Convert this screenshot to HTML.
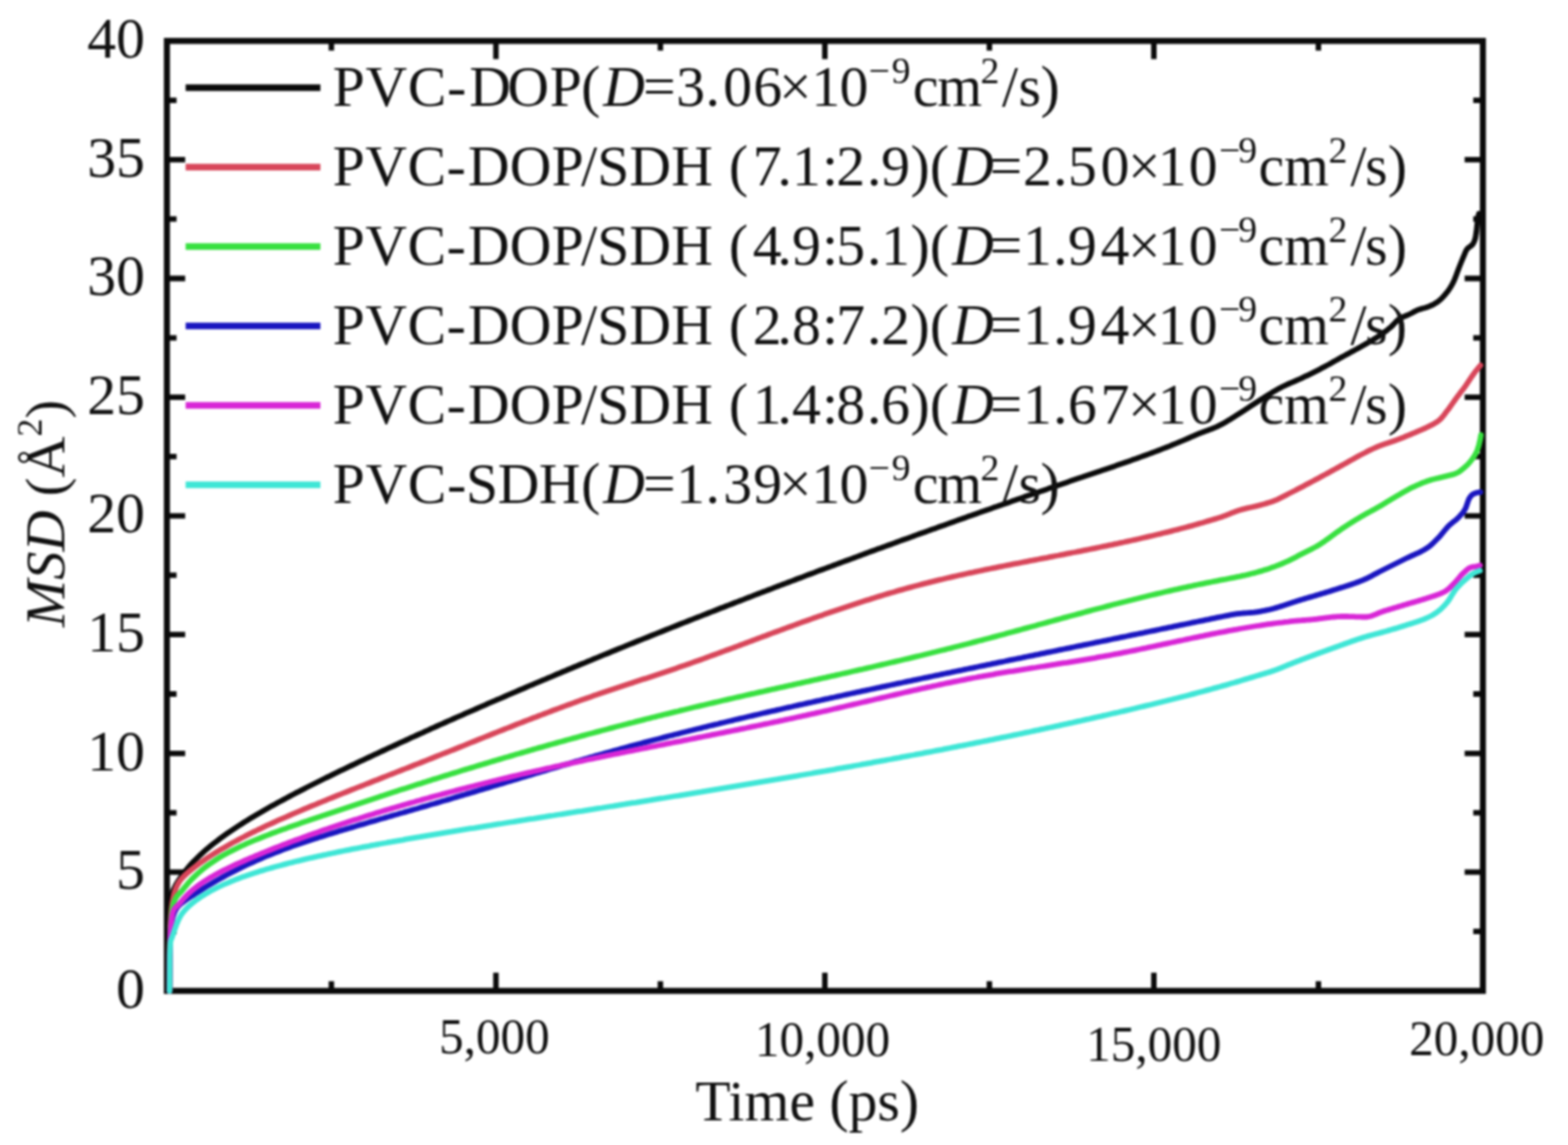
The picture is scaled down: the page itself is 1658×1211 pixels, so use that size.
<!DOCTYPE html>
<html><head><meta charset="utf-8"><title>MSD plot</title>
<style>html,body{margin:0;padding:0;background:#fff;}svg{display:block;filter:blur(0.8px);}</style>
</head><body>
<svg width="1658" height="1211" viewBox="0 0 1658 1211">
<rect width="1658" height="1211" fill="#fff"/>
<rect x="176.5" y="43.3" width="1391.5" height="1004.7" fill="none" stroke="#0a0a0a" stroke-width="6.4"/>
<path d="M350.4,1048.0V1037.8 M350.4,43.3V53.5 M524.4,1048.0V1028.7 M524.4,43.3V62.6 M698.3,1048.0V1037.8 M698.3,43.3V53.5 M872.2,1048.0V1028.7 M872.2,43.3V62.6 M1046.2,1048.0V1037.8 M1046.2,43.3V53.5 M1220.1,1048.0V1028.7 M1220.1,43.3V62.6 M1394.1,1048.0V1037.8 M1394.1,43.3V53.5 M176.5,985.2H186.7 M1568.0,985.2H1557.8 M176.5,922.4H195.8 M1568.0,922.4H1548.7 M176.5,859.6H186.7 M1568.0,859.6H1557.8 M176.5,796.8H195.8 M1568.0,796.8H1548.7 M176.5,734.0H186.7 M1568.0,734.0H1557.8 M176.5,671.2H195.8 M1568.0,671.2H1548.7 M176.5,608.4H186.7 M1568.0,608.4H1557.8 M176.5,545.6H195.8 M1568.0,545.6H1548.7 M176.5,482.9H186.7 M1568.0,482.9H1557.8 M176.5,420.1H195.8 M1568.0,420.1H1548.7 M176.5,357.3H186.7 M1568.0,357.3H1557.8 M176.5,294.5H195.8 M1568.0,294.5H1548.7 M176.5,231.7H186.7 M1568.0,231.7H1557.8 M176.5,168.9H195.8 M1568.0,168.9H1548.7 M176.5,106.1H186.7 M1568.0,106.1H1557.8" stroke="#0a0a0a" stroke-width="5.8" fill="none"/>
<path d="M179.3,1048.0 L179.6,996.4 L180.1,970.8 L180.7,957.2 L181.4,948.9 L182.2,944.2 L183.2,941.4 L184.3,939.2 L185.5,936.9 L186.8,934.5 L188.3,932.1 L189.9,929.6 L191.6,927.1 L193.5,924.5 L195.4,921.9 L197.5,919.3 L199.7,916.7 L202.1,914.0 L204.6,911.3 L207.2,908.7 L209.9,906.0 L212.7,903.3 L215.7,900.6 L218.8,897.9 L222.0,895.3 L225.4,892.6 L228.8,889.9 L232.4,887.1 L236.2,884.4 L240.0,881.7 L243.0,879.6 L246.0,877.6 L249.0,875.6 L252.0,873.6 L255.0,871.7 L258.0,869.8 L261.0,867.9 L264.0,866.1 L267.0,864.3 L270.0,862.5 L273.0,860.7 L276.0,859.0 L279.0,857.2 L282.0,855.5 L285.0,853.8 L288.0,852.1 L291.0,850.5 L294.0,848.8 L297.0,847.2 L300.0,845.6 L303.0,844.0 L306.0,842.4 L309.0,840.8 L312.0,839.2 L315.0,837.7 L318.0,836.1 L321.0,834.6 L324.0,833.0 L327.0,831.5 L330.0,830.0 L333.0,828.5 L336.0,827.0 L339.0,825.5 L342.0,824.0 L345.0,822.5 L348.0,821.1 L351.0,819.6 L354.0,818.1 L357.0,816.7 L360.0,815.2 L363.0,813.8 L366.0,812.4 L369.0,810.9 L372.0,809.5 L375.0,808.1 L378.0,806.6 L381.0,805.2 L384.0,803.8 L387.0,802.4 L390.0,801.0 L393.0,799.6 L396.0,798.2 L399.0,796.8 L402.0,795.4 L405.0,794.0 L408.0,792.6 L411.0,791.2 L414.0,789.8 L417.0,788.5 L420.0,787.1 L423.0,785.7 L426.0,784.3 L429.0,783.0 L432.0,781.6 L435.0,780.2 L438.0,778.9 L441.0,777.5 L444.0,776.1 L447.0,774.8 L450.0,773.4 L453.0,772.1 L456.0,770.7 L459.0,769.4 L462.0,768.0 L465.0,766.7 L468.0,765.4 L471.0,764.0 L474.0,762.7 L477.0,761.4 L480.0,760.0 L483.0,758.7 L486.0,757.4 L489.0,756.1 L492.0,754.7 L495.0,753.4 L498.0,752.1 L501.0,750.8 L504.0,749.5 L507.0,748.2 L510.0,746.9 L513.0,745.6 L516.0,744.2 L519.0,742.9 L522.0,741.6 L525.0,740.3 L528.0,739.1 L531.0,737.8 L534.0,736.5 L537.0,735.2 L540.0,733.9 L543.0,732.6 L546.0,731.3 L549.0,730.0 L552.0,728.8 L555.0,727.5 L558.0,726.2 L561.0,724.9 L564.0,723.7 L567.0,722.4 L570.0,721.1 L573.0,719.8 L576.0,718.6 L579.0,717.3 L582.0,716.1 L585.0,714.8 L588.0,713.5 L591.0,712.3 L594.0,711.0 L597.0,709.8 L600.0,708.5 L603.0,707.3 L606.0,706.0 L609.0,704.8 L612.0,703.5 L615.0,702.3 L618.0,701.1 L621.0,699.8 L624.0,698.6 L627.0,697.3 L630.0,696.1 L633.0,694.9 L636.0,693.6 L639.0,692.4 L642.0,691.2 L645.0,690.0 L648.0,688.7 L651.0,687.5 L654.0,686.3 L657.0,685.1 L660.0,683.9 L663.0,682.6 L666.0,681.4 L669.0,680.2 L672.0,679.0 L675.0,677.8 L678.0,676.6 L681.0,675.4 L684.0,674.2 L687.0,673.0 L690.0,671.8 L693.0,670.6 L696.0,669.4 L699.0,668.2 L702.0,667.0 L705.0,665.8 L708.0,664.6 L711.0,663.4 L714.0,662.2 L717.0,661.0 L720.0,659.8 L723.0,658.6 L726.0,657.5 L729.0,656.3 L732.0,655.1 L735.0,653.9 L738.0,652.7 L741.0,651.6 L744.0,650.4 L747.0,649.2 L750.0,648.0 L753.0,646.9 L756.0,645.7 L759.0,644.5 L762.0,643.3 L765.0,642.2 L768.0,641.0 L771.0,639.9 L774.0,638.7 L777.0,637.5 L780.0,636.4 L783.0,635.2 L786.0,634.1 L789.0,632.9 L792.0,631.7 L795.0,630.6 L798.0,629.4 L801.0,628.3 L804.0,627.1 L807.0,626.0 L810.0,624.9 L813.0,623.7 L816.0,622.6 L819.0,621.4 L822.0,620.3 L825.0,619.1 L828.0,618.0 L831.0,616.9 L834.0,615.7 L837.0,614.6 L840.0,613.5 L843.0,612.3 L846.0,611.2 L849.0,610.1 L852.0,608.9 L855.0,607.8 L858.0,606.7 L861.0,605.6 L864.0,604.4 L867.0,603.3 L870.0,602.2 L873.0,601.1 L876.0,600.0 L879.0,598.9 L882.0,597.7 L885.0,596.6 L888.0,595.5 L891.0,594.4 L894.0,593.3 L897.0,592.2 L900.0,591.1 L903.0,590.0 L906.0,588.9 L909.0,587.8 L912.0,586.6 L915.0,585.5 L918.0,584.4 L921.0,583.3 L924.0,582.2 L927.0,581.1 L930.0,580.1 L933.0,579.0 L936.0,577.9 L939.0,576.8 L942.0,575.7 L945.0,574.6 L948.0,573.5 L951.0,572.4 L954.0,571.3 L957.0,570.2 L960.0,569.2 L963.0,568.1 L966.0,567.0 L969.0,565.9 L972.0,564.8 L975.0,563.7 L978.0,562.7 L981.0,561.6 L984.0,560.5 L987.0,559.4 L990.0,558.4 L993.0,557.3 L996.0,556.2 L999.0,555.2 L1002.0,554.1 L1005.0,553.0 L1008.0,552.0 L1011.0,550.9 L1014.0,549.8 L1017.0,548.8 L1020.0,547.7 L1023.0,546.6 L1026.0,545.6 L1029.0,544.5 L1032.0,543.5 L1035.0,542.4 L1038.0,541.3 L1041.0,540.3 L1044.0,539.2 L1047.0,538.2 L1050.0,537.1 L1053.0,536.1 L1056.0,535.0 L1059.0,534.0 L1062.0,532.9 L1065.0,531.9 L1068.0,530.9 L1071.0,529.8 L1074.0,528.8 L1077.0,527.7 L1080.0,526.7 L1083.0,525.6 L1086.0,524.6 L1089.0,523.6 L1092.0,522.5 L1095.0,521.5 L1098.0,520.5 L1101.0,519.4 L1104.0,518.4 L1107.0,517.4 L1110.0,516.3 L1113.0,515.3 L1116.0,514.3 L1119.0,513.2 L1122.0,512.2 L1125.0,511.2 L1128.0,510.2 L1131.0,509.1 L1134.0,508.1 L1137.0,507.1 L1140.0,506.1 L1143.0,505.1 L1146.0,504.0 L1149.0,503.0 L1152.0,502.0 L1155.0,501.0 L1158.0,500.0 L1161.0,499.0 L1164.0,498.0 L1167.0,496.9 L1170.0,495.9 L1173.0,494.9 L1176.0,493.9 L1179.0,492.9 L1182.0,491.8 L1185.0,490.8 L1188.0,489.8 L1191.0,488.7 L1194.0,487.7 L1197.0,486.6 L1200.0,485.6 L1203.0,484.5 L1206.0,483.4 L1209.0,482.3 L1212.0,481.2 L1215.0,480.1 L1218.0,479.0 L1221.0,477.9 L1224.0,476.8 L1227.0,475.6 L1230.0,474.4 L1233.0,473.3 L1236.0,472.1 L1239.0,470.8 L1242.0,469.6 L1245.0,468.4 L1248.0,467.1 L1251.0,465.9 L1254.0,464.6 L1255.0,464.1 L1256.0,463.7 L1257.0,463.3 L1258.0,462.8 L1259.0,462.4 L1260.0,461.9 L1261.0,461.5 L1262.0,461.1 L1263.0,460.6 L1264.0,460.2 L1265.0,459.8 L1266.0,459.4 L1267.0,458.9 L1268.0,458.5 L1269.0,458.1 L1270.0,457.8 L1271.0,457.4 L1272.0,457.0 L1273.0,456.6 L1274.0,456.3 L1275.0,455.9 L1276.0,455.5 L1277.0,455.2 L1278.0,454.8 L1279.0,454.4 L1280.0,454.0 L1281.0,453.7 L1282.0,453.3 L1283.0,452.9 L1284.0,452.5 L1285.0,452.0 L1286.0,451.6 L1287.0,451.1 L1288.0,450.7 L1289.0,450.2 L1290.0,449.7 L1291.0,449.2 L1292.0,448.7 L1293.0,448.1 L1294.0,447.6 L1295.0,447.0 L1296.0,446.4 L1297.0,445.8 L1298.0,445.2 L1299.0,444.6 L1300.0,444.0 L1301.0,443.4 L1302.0,442.8 L1303.0,442.1 L1304.0,441.5 L1305.0,440.9 L1306.0,440.2 L1307.0,439.6 L1308.0,438.9 L1309.0,438.3 L1310.0,437.7 L1311.0,437.0 L1312.0,436.4 L1313.0,435.8 L1314.0,435.1 L1315.0,434.5 L1316.0,433.9 L1317.0,433.2 L1318.0,432.5 L1319.0,431.9 L1320.0,431.2 L1321.0,430.6 L1322.0,429.9 L1323.0,429.2 L1324.0,428.6 L1325.0,427.9 L1326.0,427.3 L1327.0,426.6 L1328.0,426.0 L1329.0,425.3 L1330.0,424.7 L1331.0,424.0 L1332.0,423.4 L1333.0,422.7 L1334.0,422.1 L1335.0,421.5 L1336.0,420.9 L1337.0,420.2 L1338.0,419.6 L1339.0,419.0 L1340.0,418.3 L1341.0,417.7 L1342.0,417.1 L1343.0,416.5 L1344.0,415.9 L1345.0,415.2 L1346.0,414.6 L1347.0,414.0 L1348.0,413.4 L1349.0,412.9 L1350.0,412.3 L1351.0,411.7 L1352.0,411.2 L1353.0,410.6 L1354.0,410.1 L1355.0,409.6 L1356.0,409.0 L1357.0,408.5 L1358.0,408.1 L1359.0,407.6 L1360.0,407.1 L1361.0,406.7 L1362.0,406.2 L1363.0,405.8 L1364.0,405.3 L1365.0,404.9 L1366.0,404.5 L1367.0,404.1 L1368.0,403.6 L1369.0,403.2 L1370.0,402.8 L1371.0,402.3 L1372.0,401.9 L1373.0,401.5 L1374.0,401.0 L1375.0,400.6 L1376.0,400.1 L1377.0,399.7 L1378.0,399.2 L1379.0,398.7 L1380.0,398.2 L1381.0,397.7 L1382.0,397.3 L1383.0,396.8 L1384.0,396.3 L1385.0,395.8 L1386.0,395.3 L1387.0,394.8 L1388.0,394.3 L1389.0,393.8 L1390.0,393.3 L1391.0,392.8 L1392.0,392.3 L1393.0,391.8 L1394.0,391.3 L1395.0,390.8 L1396.0,390.3 L1397.0,389.7 L1398.0,389.2 L1399.0,388.7 L1400.0,388.2 L1401.0,387.6 L1402.0,387.1 L1403.0,386.5 L1404.0,386.0 L1405.0,385.5 L1406.0,384.9 L1407.0,384.3 L1408.0,383.8 L1409.0,383.2 L1410.0,382.7 L1411.0,382.1 L1412.0,381.5 L1413.0,381.0 L1414.0,380.4 L1415.0,379.9 L1416.0,379.3 L1417.0,378.7 L1418.0,378.2 L1419.0,377.6 L1420.0,377.1 L1421.0,376.5 L1422.0,376.0 L1423.0,375.4 L1424.0,374.9 L1425.0,374.3 L1426.0,373.8 L1427.0,373.3 L1428.0,372.7 L1429.0,372.2 L1430.0,371.6 L1431.0,371.1 L1432.0,370.6 L1433.0,370.0 L1434.0,369.5 L1435.0,368.9 L1436.0,368.4 L1437.0,367.8 L1438.0,367.3 L1439.0,366.7 L1440.0,366.1 L1441.0,365.6 L1442.0,365.0 L1443.0,364.4 L1444.0,363.9 L1445.0,363.3 L1446.0,362.7 L1447.0,362.1 L1448.0,361.6 L1449.0,361.0 L1450.0,360.4 L1451.0,359.8 L1452.0,359.2 L1453.0,358.6 L1454.0,358.0 L1455.0,357.3 L1456.0,356.7 L1457.0,356.1 L1458.0,355.4 L1459.0,354.7 L1460.0,354.0 L1461.0,353.4 L1462.0,352.7 L1463.0,351.9 L1464.0,351.2 L1465.0,350.5 L1466.0,349.7 L1467.0,348.9 L1468.0,348.1 L1469.0,347.3 L1470.0,346.5 L1471.0,345.6 L1472.0,344.6 L1473.0,343.6 L1474.0,342.5 L1475.0,341.5 L1476.0,340.4 L1477.0,339.4 L1478.0,338.5 L1479.0,337.7 L1480.0,337.0 L1481.0,336.4 L1482.0,335.9 L1483.0,335.4 L1484.0,335.0 L1485.0,334.6 L1486.0,334.2 L1487.0,333.8 L1488.0,333.4 L1489.0,333.0 L1490.0,332.5 L1491.0,332.0 L1492.0,331.5 L1493.0,331.0 L1494.0,330.4 L1495.0,329.9 L1496.0,329.3 L1497.0,328.8 L1498.0,328.4 L1499.0,327.9 L1500.0,327.5 L1501.0,327.2 L1502.0,326.9 L1503.0,326.6 L1504.0,326.3 L1505.0,326.0 L1506.0,325.8 L1507.0,325.5 L1508.0,325.2 L1509.0,324.9 L1510.0,324.5 L1511.0,324.1 L1512.0,323.7 L1513.0,323.2 L1514.0,322.8 L1515.0,322.3 L1516.0,321.8 L1517.0,321.2 L1518.0,320.6 L1519.0,320.0 L1520.0,319.3 L1521.0,318.6 L1522.0,317.8 L1523.0,316.9 L1524.0,316.0 L1525.0,315.0 L1526.0,313.9 L1527.0,312.8 L1528.0,311.6 L1529.0,310.4 L1530.0,309.2 L1531.0,307.9 L1532.0,306.5 L1533.0,305.0 L1534.0,303.4 L1535.0,301.7 L1536.0,299.8 L1537.0,297.9 L1538.0,295.7 L1539.0,293.2 L1540.0,290.5 L1541.0,287.7 L1542.0,285.1 L1543.0,282.5 L1544.0,280.0 L1545.0,277.5 L1546.0,275.1 L1547.0,272.7 L1548.0,270.3 L1549.0,267.8 L1550.0,265.5 L1551.0,263.8 L1552.0,262.6 L1553.0,261.8 L1554.0,261.1 L1555.0,260.4 L1556.0,259.6 L1557.0,258.6 L1558.0,257.1 L1559.0,255.0 L1560.0,252.0 L1561.0,246.1 L1562.0,237.0 L1563.0,228.9 L1563.8,226.0" fill="none" stroke="#0a0a0a" stroke-width="5.8" stroke-linejoin="round" stroke-linecap="round"/>
<path d="M179.3,1048.0 L179.6,1002.1 L180.1,979.5 L180.7,968.4 L181.4,960.6 L182.2,954.5 L183.2,949.2 L184.3,944.7 L185.5,940.8 L186.8,937.5 L188.3,934.6 L189.9,932.1 L191.6,929.9 L193.5,927.8 L195.4,925.9 L197.5,923.9 L199.7,922.0 L202.1,920.0 L204.6,918.0 L207.2,916.0 L209.9,913.9 L212.7,911.9 L215.7,909.8 L218.8,907.7 L222.0,905.6 L225.4,903.4 L228.8,901.3 L232.4,899.1 L236.2,896.9 L240.0,894.7 L243.0,893.0 L246.0,891.3 L249.0,889.7 L252.0,888.1 L255.0,886.5 L258.0,885.0 L261.0,883.4 L264.0,881.9 L267.0,880.4 L270.0,879.0 L273.0,877.5 L276.0,876.1 L279.0,874.6 L282.0,873.2 L285.0,871.8 L288.0,870.5 L291.0,869.1 L294.0,867.7 L297.0,866.4 L300.0,865.1 L303.0,863.8 L306.0,862.5 L309.0,861.2 L312.0,859.9 L315.0,858.6 L318.0,857.3 L321.0,856.0 L324.0,854.8 L327.0,853.5 L330.0,852.3 L333.0,851.1 L336.0,849.8 L339.0,848.6 L342.0,847.4 L345.0,846.2 L348.0,844.9 L351.0,843.7 L354.0,842.5 L357.0,841.3 L360.0,840.1 L363.0,838.9 L366.0,837.7 L369.0,836.5 L372.0,835.3 L375.0,834.1 L378.0,832.9 L381.0,831.8 L384.0,830.6 L387.0,829.4 L390.0,828.2 L393.0,827.0 L396.0,825.8 L399.0,824.7 L402.0,823.5 L405.0,822.3 L408.0,821.1 L411.0,819.9 L414.0,818.8 L417.0,817.6 L420.0,816.4 L423.0,815.2 L426.0,814.0 L429.0,812.9 L432.0,811.7 L435.0,810.5 L438.0,809.3 L441.0,808.1 L444.0,807.0 L447.0,805.8 L450.0,804.6 L453.0,803.4 L456.0,802.2 L459.0,801.0 L462.0,799.8 L465.0,798.6 L468.0,797.4 L471.0,796.3 L474.0,795.1 L477.0,793.9 L480.0,792.7 L483.0,791.5 L486.0,790.3 L489.0,789.1 L492.0,787.9 L495.0,786.6 L498.0,785.4 L501.0,784.2 L504.0,783.0 L507.0,781.8 L510.0,780.6 L513.0,779.4 L516.0,778.2 L519.0,777.0 L522.0,775.8 L525.0,774.6 L528.0,773.4 L531.0,772.2 L534.0,771.0 L537.0,769.9 L540.0,768.7 L543.0,767.5 L546.0,766.3 L549.0,765.1 L552.0,764.0 L555.0,762.8 L558.0,761.6 L561.0,760.5 L564.0,759.3 L567.0,758.2 L570.0,757.0 L573.0,755.9 L576.0,754.7 L579.0,753.6 L582.0,752.5 L585.0,751.3 L588.0,750.2 L591.0,749.1 L594.0,748.0 L597.0,746.9 L600.0,745.8 L603.0,744.7 L606.0,743.6 L609.0,742.5 L612.0,741.4 L615.0,740.3 L618.0,739.3 L621.0,738.2 L624.0,737.2 L627.0,736.1 L630.0,735.1 L633.0,734.0 L636.0,733.0 L639.0,732.0 L642.0,731.0 L645.0,730.0 L648.0,729.0 L651.0,728.0 L654.0,727.0 L657.0,726.0 L660.0,725.0 L663.0,724.0 L666.0,723.0 L669.0,722.1 L672.0,721.1 L675.0,720.1 L678.0,719.1 L681.0,718.1 L684.0,717.2 L687.0,716.2 L690.0,715.2 L693.0,714.2 L696.0,713.2 L699.0,712.2 L702.0,711.2 L705.0,710.2 L708.0,709.2 L711.0,708.2 L714.0,707.2 L717.0,706.1 L720.0,705.1 L723.0,704.1 L726.0,703.0 L729.0,702.0 L732.0,700.9 L735.0,699.8 L738.0,698.8 L741.0,697.7 L744.0,696.6 L747.0,695.5 L750.0,694.4 L753.0,693.3 L756.0,692.2 L759.0,691.1 L762.0,690.0 L765.0,688.9 L768.0,687.8 L771.0,686.7 L774.0,685.6 L777.0,684.5 L780.0,683.4 L783.0,682.2 L786.0,681.1 L789.0,680.0 L792.0,678.9 L795.0,677.8 L798.0,676.6 L801.0,675.5 L804.0,674.4 L807.0,673.3 L810.0,672.2 L813.0,671.0 L816.0,669.9 L819.0,668.8 L822.0,667.7 L825.0,666.6 L828.0,665.5 L831.0,664.4 L834.0,663.3 L837.0,662.2 L840.0,661.1 L843.0,660.0 L846.0,658.9 L849.0,657.8 L852.0,656.8 L855.0,655.7 L858.0,654.6 L861.0,653.5 L864.0,652.5 L867.0,651.4 L870.0,650.4 L873.0,649.3 L876.0,648.3 L879.0,647.2 L882.0,646.2 L885.0,645.2 L888.0,644.2 L891.0,643.2 L894.0,642.2 L897.0,641.2 L900.0,640.2 L903.0,639.2 L906.0,638.2 L909.0,637.2 L912.0,636.3 L915.0,635.3 L918.0,634.4 L921.0,633.4 L924.0,632.5 L927.0,631.5 L930.0,630.6 L933.0,629.7 L936.0,628.8 L939.0,627.9 L942.0,627.0 L945.0,626.2 L948.0,625.3 L951.0,624.4 L954.0,623.6 L957.0,622.7 L960.0,621.9 L963.0,621.1 L966.0,620.3 L969.0,619.5 L972.0,618.7 L975.0,617.9 L978.0,617.1 L981.0,616.4 L984.0,615.6 L987.0,614.9 L990.0,614.1 L993.0,613.4 L996.0,612.7 L999.0,612.0 L1002.0,611.3 L1005.0,610.6 L1008.0,609.9 L1011.0,609.2 L1014.0,608.5 L1017.0,607.9 L1020.0,607.2 L1023.0,606.5 L1026.0,605.9 L1029.0,605.3 L1032.0,604.6 L1035.0,604.0 L1038.0,603.4 L1041.0,602.7 L1044.0,602.1 L1047.0,601.5 L1050.0,600.9 L1053.0,600.3 L1056.0,599.7 L1059.0,599.1 L1062.0,598.5 L1065.0,597.9 L1068.0,597.3 L1071.0,596.7 L1074.0,596.1 L1077.0,595.6 L1080.0,595.0 L1083.0,594.4 L1086.0,593.8 L1089.0,593.2 L1092.0,592.7 L1095.0,592.1 L1098.0,591.5 L1101.0,590.9 L1104.0,590.3 L1107.0,589.8 L1110.0,589.2 L1113.0,588.6 L1116.0,588.0 L1119.0,587.5 L1122.0,586.9 L1125.0,586.3 L1128.0,585.7 L1131.0,585.1 L1134.0,584.5 L1137.0,584.0 L1140.0,583.4 L1143.0,582.8 L1146.0,582.2 L1149.0,581.6 L1152.0,581.0 L1155.0,580.4 L1158.0,579.8 L1161.0,579.2 L1164.0,578.5 L1167.0,577.9 L1170.0,577.3 L1173.0,576.7 L1176.0,576.1 L1179.0,575.4 L1182.0,574.8 L1185.0,574.1 L1188.0,573.5 L1191.0,572.8 L1194.0,572.2 L1197.0,571.5 L1200.0,570.9 L1203.0,570.2 L1206.0,569.5 L1209.0,568.8 L1212.0,568.1 L1215.0,567.4 L1218.0,566.7 L1221.0,566.0 L1224.0,565.3 L1227.0,564.6 L1230.0,563.8 L1233.0,563.1 L1236.0,562.4 L1239.0,561.6 L1242.0,560.8 L1245.0,560.1 L1248.0,559.3 L1251.0,558.5 L1254.0,557.7 L1257.0,556.9 L1260.0,556.1 L1263.0,555.2 L1266.0,554.4 L1269.0,553.5 L1272.0,552.7 L1275.0,551.8 L1278.0,550.9 L1281.0,550.0 L1284.0,549.1 L1287.0,548.2 L1290.0,547.3 L1291.0,547.0 L1292.0,546.6 L1293.0,546.3 L1294.0,545.9 L1295.0,545.5 L1296.0,545.2 L1297.0,544.8 L1298.0,544.4 L1299.0,544.0 L1300.0,543.6 L1301.0,543.1 L1302.0,542.7 L1303.0,542.3 L1304.0,542.0 L1305.0,541.6 L1306.0,541.2 L1307.0,540.8 L1308.0,540.5 L1309.0,540.1 L1310.0,539.8 L1311.0,539.5 L1312.0,539.2 L1313.0,538.9 L1314.0,538.6 L1315.0,538.4 L1316.0,538.1 L1317.0,537.9 L1318.0,537.6 L1319.0,537.4 L1320.0,537.2 L1321.0,537.0 L1322.0,536.7 L1323.0,536.5 L1324.0,536.3 L1325.0,536.0 L1326.0,535.8 L1327.0,535.6 L1328.0,535.3 L1329.0,535.1 L1330.0,534.8 L1331.0,534.6 L1332.0,534.3 L1333.0,534.1 L1334.0,533.8 L1335.0,533.5 L1336.0,533.3 L1337.0,533.0 L1338.0,532.7 L1339.0,532.4 L1340.0,532.1 L1341.0,531.8 L1342.0,531.5 L1343.0,531.2 L1344.0,530.9 L1345.0,530.5 L1346.0,530.2 L1347.0,529.8 L1348.0,529.4 L1349.0,529.0 L1350.0,528.6 L1351.0,528.2 L1352.0,527.7 L1353.0,527.2 L1354.0,526.7 L1355.0,526.2 L1356.0,525.7 L1357.0,525.2 L1358.0,524.7 L1359.0,524.1 L1360.0,523.6 L1361.0,523.1 L1362.0,522.5 L1363.0,522.0 L1364.0,521.5 L1365.0,521.0 L1366.0,520.5 L1367.0,520.0 L1368.0,519.5 L1369.0,519.0 L1370.0,518.5 L1371.0,517.9 L1372.0,517.4 L1373.0,516.9 L1374.0,516.4 L1375.0,515.9 L1376.0,515.3 L1377.0,514.8 L1378.0,514.3 L1379.0,513.8 L1380.0,513.2 L1381.0,512.7 L1382.0,512.2 L1383.0,511.7 L1384.0,511.1 L1385.0,510.6 L1386.0,510.1 L1387.0,509.5 L1388.0,509.0 L1389.0,508.5 L1390.0,507.9 L1391.0,507.4 L1392.0,506.9 L1393.0,506.3 L1394.0,505.8 L1395.0,505.3 L1396.0,504.7 L1397.0,504.2 L1398.0,503.6 L1399.0,503.1 L1400.0,502.5 L1401.0,502.0 L1402.0,501.5 L1403.0,500.9 L1404.0,500.4 L1405.0,499.8 L1406.0,499.3 L1407.0,498.7 L1408.0,498.2 L1409.0,497.6 L1410.0,497.1 L1411.0,496.5 L1412.0,496.0 L1413.0,495.4 L1414.0,494.9 L1415.0,494.3 L1416.0,493.8 L1417.0,493.2 L1418.0,492.7 L1419.0,492.1 L1420.0,491.6 L1421.0,491.0 L1422.0,490.5 L1423.0,489.9 L1424.0,489.4 L1425.0,488.8 L1426.0,488.2 L1427.0,487.7 L1428.0,487.1 L1429.0,486.5 L1430.0,486.0 L1431.0,485.4 L1432.0,484.8 L1433.0,484.3 L1434.0,483.7 L1435.0,483.2 L1436.0,482.6 L1437.0,482.1 L1438.0,481.5 L1439.0,481.0 L1440.0,480.5 L1441.0,480.0 L1442.0,479.5 L1443.0,479.0 L1444.0,478.5 L1445.0,477.9 L1446.0,477.4 L1447.0,476.9 L1448.0,476.4 L1449.0,475.9 L1450.0,475.5 L1451.0,475.0 L1452.0,474.5 L1453.0,474.0 L1454.0,473.6 L1455.0,473.1 L1456.0,472.7 L1457.0,472.3 L1458.0,471.9 L1459.0,471.5 L1460.0,471.1 L1461.0,470.7 L1462.0,470.4 L1463.0,470.0 L1464.0,469.7 L1465.0,469.3 L1466.0,469.0 L1467.0,468.7 L1468.0,468.4 L1469.0,468.0 L1470.0,467.7 L1471.0,467.4 L1472.0,467.0 L1473.0,466.7 L1474.0,466.4 L1475.0,466.0 L1476.0,465.6 L1477.0,465.3 L1478.0,464.9 L1479.0,464.5 L1480.0,464.1 L1481.0,463.7 L1482.0,463.4 L1483.0,463.0 L1484.0,462.6 L1485.0,462.2 L1486.0,461.7 L1487.0,461.3 L1488.0,460.9 L1489.0,460.5 L1490.0,460.1 L1491.0,459.7 L1492.0,459.3 L1493.0,458.8 L1494.0,458.4 L1495.0,458.0 L1496.0,457.6 L1497.0,457.1 L1498.0,456.7 L1499.0,456.3 L1500.0,455.9 L1501.0,455.4 L1502.0,455.0 L1503.0,454.6 L1504.0,454.1 L1505.0,453.7 L1506.0,453.3 L1507.0,452.8 L1508.0,452.3 L1509.0,451.9 L1510.0,451.4 L1511.0,450.9 L1512.0,450.4 L1513.0,449.8 L1514.0,449.3 L1515.0,448.8 L1516.0,448.3 L1517.0,447.7 L1518.0,447.1 L1519.0,446.5 L1520.0,445.8 L1521.0,445.1 L1522.0,444.3 L1523.0,443.4 L1524.0,442.4 L1525.0,441.3 L1526.0,440.0 L1527.0,438.8 L1528.0,437.4 L1529.0,436.1 L1530.0,434.8 L1531.0,433.5 L1532.0,432.2 L1533.0,430.8 L1534.0,429.4 L1535.0,428.0 L1536.0,426.5 L1537.0,425.1 L1538.0,423.7 L1539.0,422.3 L1540.0,420.9 L1541.0,419.6 L1542.0,418.2 L1543.0,416.9 L1544.0,415.6 L1545.0,414.3 L1546.0,413.0 L1547.0,411.7 L1548.0,410.4 L1549.0,409.0 L1550.0,407.6 L1551.0,406.1 L1552.0,404.6 L1553.0,403.1 L1554.0,401.6 L1555.0,400.1 L1556.0,398.6 L1557.0,397.2 L1558.0,395.8 L1559.0,394.4 L1560.0,393.1 L1561.0,391.8 L1562.0,390.6 L1563.0,389.4 L1564.0,388.2 L1565.0,387.0 L1565.5,386.4" fill="none" stroke="#d8465a" stroke-width="5.8" stroke-linejoin="round" stroke-linecap="round"/>
<path d="M179.3,1048.0 L179.6,1005.3 L180.1,984.9 L180.7,974.9 L181.4,967.3 L182.2,961.4 L183.2,956.7 L184.3,953.1 L185.5,950.4 L186.8,948.2 L188.3,946.4 L189.9,944.7 L191.6,942.9 L193.5,940.8 L195.4,938.3 L197.5,935.8 L199.7,933.2 L202.1,930.6 L204.6,928.1 L207.2,925.6 L209.9,923.1 L212.7,920.7 L215.7,918.3 L218.8,915.9 L222.0,913.6 L225.4,911.3 L228.8,909.0 L232.4,906.8 L236.2,904.6 L240.0,902.5 L243.0,900.8 L246.0,899.3 L249.0,897.8 L252.0,896.3 L255.0,894.9 L258.0,893.6 L261.0,892.2 L264.0,890.9 L267.0,889.6 L270.0,888.4 L273.0,887.2 L276.0,886.0 L279.0,884.8 L282.0,883.6 L285.0,882.5 L288.0,881.3 L291.0,880.2 L294.0,879.1 L297.0,878.0 L300.0,876.9 L303.0,875.9 L306.0,874.8 L309.0,873.7 L312.0,872.7 L315.0,871.7 L318.0,870.6 L321.0,869.6 L324.0,868.6 L327.0,867.5 L330.0,866.5 L333.0,865.5 L336.0,864.5 L339.0,863.5 L342.0,862.4 L345.0,861.4 L348.0,860.4 L351.0,859.4 L354.0,858.4 L357.0,857.4 L360.0,856.4 L363.0,855.4 L366.0,854.4 L369.0,853.4 L372.0,852.4 L375.0,851.4 L378.0,850.4 L381.0,849.4 L384.0,848.4 L387.0,847.4 L390.0,846.4 L393.0,845.4 L396.0,844.4 L399.0,843.4 L402.0,842.4 L405.0,841.5 L408.0,840.5 L411.0,839.5 L414.0,838.5 L417.0,837.5 L420.0,836.6 L423.0,835.6 L426.0,834.6 L429.0,833.7 L432.0,832.7 L435.0,831.7 L438.0,830.8 L441.0,829.8 L444.0,828.9 L447.0,827.9 L450.0,827.0 L453.0,826.0 L456.0,825.1 L459.0,824.1 L462.0,823.2 L465.0,822.3 L468.0,821.3 L471.0,820.4 L474.0,819.5 L477.0,818.5 L480.0,817.6 L483.0,816.7 L486.0,815.8 L489.0,814.8 L492.0,813.9 L495.0,813.0 L498.0,812.1 L501.0,811.2 L504.0,810.3 L507.0,809.4 L510.0,808.5 L513.0,807.6 L516.0,806.7 L519.0,805.8 L522.0,804.9 L525.0,804.0 L528.0,803.1 L531.0,802.2 L534.0,801.3 L537.0,800.5 L540.0,799.6 L543.0,798.7 L546.0,797.8 L549.0,797.0 L552.0,796.1 L555.0,795.2 L558.0,794.4 L561.0,793.5 L564.0,792.6 L567.0,791.8 L570.0,790.9 L573.0,790.1 L576.0,789.2 L579.0,788.4 L582.0,787.5 L585.0,786.7 L588.0,785.9 L591.0,785.0 L594.0,784.2 L597.0,783.4 L600.0,782.5 L603.0,781.7 L606.0,780.9 L609.0,780.1 L612.0,779.2 L615.0,778.4 L618.0,777.6 L621.0,776.8 L624.0,776.0 L627.0,775.2 L630.0,774.4 L633.0,773.6 L636.0,772.8 L639.0,772.0 L642.0,771.2 L645.0,770.4 L648.0,769.6 L651.0,768.8 L654.0,768.0 L657.0,767.3 L660.0,766.5 L663.0,765.7 L666.0,764.9 L669.0,764.2 L672.0,763.4 L675.0,762.6 L678.0,761.9 L681.0,761.1 L684.0,760.3 L687.0,759.6 L690.0,758.8 L693.0,758.1 L696.0,757.3 L699.0,756.6 L702.0,755.8 L705.0,755.1 L708.0,754.4 L711.0,753.6 L714.0,752.9 L717.0,752.2 L720.0,751.4 L723.0,750.7 L726.0,750.0 L729.0,749.3 L732.0,748.5 L735.0,747.8 L738.0,747.1 L741.0,746.4 L744.0,745.7 L747.0,745.0 L750.0,744.3 L753.0,743.6 L756.0,742.9 L759.0,742.2 L762.0,741.5 L765.0,740.8 L768.0,740.1 L771.0,739.4 L774.0,738.7 L777.0,738.0 L780.0,737.3 L783.0,736.7 L786.0,736.0 L789.0,735.3 L792.0,734.6 L795.0,733.9 L798.0,733.3 L801.0,732.6 L804.0,731.9 L807.0,731.3 L810.0,730.6 L813.0,729.9 L816.0,729.2 L819.0,728.6 L822.0,727.9 L825.0,727.2 L828.0,726.6 L831.0,725.9 L834.0,725.2 L837.0,724.6 L840.0,723.9 L843.0,723.2 L846.0,722.6 L849.0,721.9 L852.0,721.2 L855.0,720.6 L858.0,719.9 L861.0,719.2 L864.0,718.6 L867.0,717.9 L870.0,717.2 L873.0,716.6 L876.0,715.9 L879.0,715.2 L882.0,714.6 L885.0,713.9 L888.0,713.2 L891.0,712.5 L894.0,711.9 L897.0,711.2 L900.0,710.5 L903.0,709.8 L906.0,709.1 L909.0,708.4 L912.0,707.8 L915.0,707.1 L918.0,706.4 L921.0,705.7 L924.0,705.0 L927.0,704.3 L930.0,703.6 L933.0,702.9 L936.0,702.2 L939.0,701.5 L942.0,700.8 L945.0,700.1 L948.0,699.4 L951.0,698.7 L954.0,698.0 L957.0,697.3 L960.0,696.6 L963.0,695.9 L966.0,695.1 L969.0,694.4 L972.0,693.7 L975.0,693.0 L978.0,692.2 L981.0,691.5 L984.0,690.8 L987.0,690.0 L990.0,689.3 L993.0,688.5 L996.0,687.8 L999.0,687.1 L1002.0,686.3 L1005.0,685.6 L1008.0,684.8 L1011.0,684.0 L1014.0,683.3 L1017.0,682.5 L1020.0,681.7 L1023.0,681.0 L1026.0,680.2 L1029.0,679.4 L1032.0,678.6 L1035.0,677.8 L1038.0,677.1 L1041.0,676.3 L1044.0,675.5 L1047.0,674.7 L1050.0,673.9 L1053.0,673.1 L1056.0,672.3 L1059.0,671.5 L1062.0,670.7 L1065.0,669.8 L1068.0,669.0 L1071.0,668.2 L1074.0,667.4 L1077.0,666.6 L1080.0,665.8 L1083.0,664.9 L1086.0,664.1 L1089.0,663.3 L1092.0,662.5 L1095.0,661.7 L1098.0,660.8 L1101.0,660.0 L1104.0,659.2 L1107.0,658.4 L1110.0,657.5 L1113.0,656.7 L1116.0,655.9 L1119.0,655.1 L1122.0,654.3 L1125.0,653.4 L1128.0,652.6 L1131.0,651.8 L1134.0,651.0 L1137.0,650.2 L1140.0,649.4 L1143.0,648.6 L1146.0,647.7 L1149.0,646.9 L1152.0,646.1 L1155.0,645.3 L1158.0,644.5 L1161.0,643.7 L1164.0,643.0 L1167.0,642.2 L1170.0,641.4 L1173.0,640.6 L1176.0,639.8 L1179.0,639.0 L1182.0,638.3 L1185.0,637.5 L1188.0,636.7 L1191.0,636.0 L1194.0,635.2 L1197.0,634.5 L1200.0,633.7 L1203.0,633.0 L1206.0,632.2 L1209.0,631.5 L1212.0,630.8 L1215.0,630.0 L1218.0,629.3 L1221.0,628.6 L1224.0,627.9 L1227.0,627.2 L1230.0,626.5 L1233.0,625.8 L1236.0,625.1 L1239.0,624.4 L1242.0,623.7 L1245.0,623.1 L1248.0,622.4 L1251.0,621.7 L1254.0,621.1 L1257.0,620.4 L1260.0,619.8 L1263.0,619.1 L1266.0,618.5 L1269.0,617.9 L1272.0,617.3 L1275.0,616.7 L1278.0,616.1 L1281.0,615.5 L1284.0,614.9 L1287.0,614.3 L1290.0,613.7 L1293.0,613.1 L1296.0,612.6 L1299.0,612.0 L1302.0,611.4 L1305.0,610.8 L1308.0,610.2 L1311.0,609.6 L1314.0,608.9 L1317.0,608.3 L1320.0,607.6 L1323.0,606.8 L1326.0,606.1 L1329.0,605.3 L1332.0,604.4 L1335.0,603.6 L1338.0,602.6 L1341.0,601.7 L1344.0,600.6 L1347.0,599.6 L1350.0,598.4 L1353.0,597.2 L1356.0,596.0 L1359.0,594.7 L1362.0,593.3 L1365.0,591.8 L1368.0,590.3 L1370.0,589.3 L1371.0,588.8 L1372.0,588.2 L1373.0,587.7 L1374.0,587.2 L1375.0,586.7 L1376.0,586.1 L1377.0,585.6 L1378.0,585.1 L1379.0,584.6 L1380.0,584.1 L1381.0,583.6 L1382.0,583.1 L1383.0,582.6 L1384.0,582.1 L1385.0,581.6 L1386.0,581.1 L1387.0,580.6 L1388.0,580.1 L1389.0,579.5 L1390.0,579.0 L1391.0,578.5 L1392.0,577.9 L1393.0,577.4 L1394.0,576.8 L1395.0,576.2 L1396.0,575.5 L1397.0,574.9 L1398.0,574.2 L1399.0,573.5 L1400.0,572.9 L1401.0,572.1 L1402.0,571.4 L1403.0,570.7 L1404.0,570.0 L1405.0,569.3 L1406.0,568.5 L1407.0,567.8 L1408.0,567.1 L1409.0,566.3 L1410.0,565.6 L1411.0,564.9 L1412.0,564.1 L1413.0,563.4 L1414.0,562.7 L1415.0,562.0 L1416.0,561.3 L1417.0,560.6 L1418.0,559.9 L1419.0,559.2 L1420.0,558.5 L1421.0,557.8 L1422.0,557.2 L1423.0,556.5 L1424.0,555.9 L1425.0,555.2 L1426.0,554.6 L1427.0,553.9 L1428.0,553.3 L1429.0,552.7 L1430.0,552.0 L1431.0,551.4 L1432.0,550.8 L1433.0,550.2 L1434.0,549.6 L1435.0,549.0 L1436.0,548.4 L1437.0,547.8 L1438.0,547.2 L1439.0,546.6 L1440.0,546.0 L1441.0,545.4 L1442.0,544.8 L1443.0,544.3 L1444.0,543.7 L1445.0,543.2 L1446.0,542.6 L1447.0,542.1 L1448.0,541.5 L1449.0,541.0 L1450.0,540.4 L1451.0,539.9 L1452.0,539.4 L1453.0,538.8 L1454.0,538.3 L1455.0,537.7 L1456.0,537.1 L1457.0,536.6 L1458.0,536.0 L1459.0,535.4 L1460.0,534.9 L1461.0,534.3 L1462.0,533.7 L1463.0,533.1 L1464.0,532.5 L1465.0,531.8 L1466.0,531.2 L1467.0,530.6 L1468.0,530.0 L1469.0,529.4 L1470.0,528.8 L1471.0,528.2 L1472.0,527.6 L1473.0,527.0 L1474.0,526.4 L1475.0,525.8 L1476.0,525.2 L1477.0,524.7 L1478.0,524.1 L1479.0,523.5 L1480.0,522.9 L1481.0,522.3 L1482.0,521.7 L1483.0,521.2 L1484.0,520.6 L1485.0,520.0 L1486.0,519.4 L1487.0,518.9 L1488.0,518.3 L1489.0,517.8 L1490.0,517.2 L1491.0,516.7 L1492.0,516.2 L1493.0,515.7 L1494.0,515.2 L1495.0,514.8 L1496.0,514.3 L1497.0,513.9 L1498.0,513.4 L1499.0,513.0 L1500.0,512.5 L1501.0,512.1 L1502.0,511.7 L1503.0,511.2 L1504.0,510.8 L1505.0,510.4 L1506.0,510.0 L1507.0,509.7 L1508.0,509.3 L1509.0,508.9 L1510.0,508.6 L1511.0,508.2 L1512.0,507.9 L1513.0,507.6 L1514.0,507.3 L1515.0,507.0 L1516.0,506.8 L1517.0,506.5 L1518.0,506.3 L1519.0,506.0 L1520.0,505.8 L1521.0,505.6 L1522.0,505.3 L1523.0,505.1 L1524.0,504.9 L1525.0,504.7 L1526.0,504.4 L1527.0,504.2 L1528.0,503.9 L1529.0,503.7 L1530.0,503.4 L1531.0,503.2 L1532.0,502.9 L1533.0,502.7 L1534.0,502.4 L1535.0,502.1 L1536.0,501.9 L1537.0,501.6 L1538.0,501.3 L1539.0,500.9 L1540.0,500.5 L1541.0,500.0 L1542.0,499.5 L1543.0,498.8 L1544.0,498.1 L1545.0,497.4 L1546.0,496.6 L1547.0,495.7 L1548.0,494.9 L1549.0,494.0 L1550.0,493.1 L1551.0,492.2 L1552.0,491.2 L1553.0,490.1 L1554.0,489.0 L1555.0,487.8 L1556.0,486.5 L1557.0,485.2 L1558.0,483.8 L1559.0,482.2 L1560.0,480.5 L1561.0,478.6 L1562.0,476.3 L1563.0,473.4 L1564.0,469.7 L1565.0,465.4 L1566.0,460.0" fill="none" stroke="#38e040" stroke-width="5.8" stroke-linejoin="round" stroke-linecap="round"/>
<path d="M179.3,1048.0 L179.6,1009.7 L180.1,990.9 L180.7,982.0 L181.4,976.3 L182.2,972.0 L183.2,968.4 L184.3,965.4 L185.5,962.8 L186.8,960.5 L188.3,958.6 L189.9,957.0 L191.6,955.5 L193.5,954.1 L195.4,952.7 L197.5,951.2 L199.7,949.7 L202.1,948.1 L204.6,946.5 L207.2,944.7 L209.9,943.0 L212.7,941.2 L215.7,939.3 L218.8,937.4 L222.0,935.5 L225.4,933.5 L228.8,931.5 L232.4,929.5 L236.2,927.4 L240.0,925.3 L243.0,923.7 L246.0,922.2 L249.0,920.6 L252.0,919.1 L255.0,917.6 L258.0,916.2 L261.0,914.7 L264.0,913.3 L267.0,912.0 L270.0,910.6 L273.0,909.3 L276.0,908.0 L279.0,906.7 L282.0,905.4 L285.0,904.2 L288.0,903.0 L291.0,901.8 L294.0,900.7 L297.0,899.5 L300.0,898.4 L303.0,897.3 L306.0,896.2 L309.0,895.1 L312.0,894.1 L315.0,893.0 L318.0,892.0 L321.0,891.0 L324.0,890.0 L327.0,889.0 L330.0,888.0 L333.0,887.0 L336.0,886.1 L339.0,885.1 L342.0,884.2 L345.0,883.2 L348.0,882.3 L351.0,881.4 L354.0,880.5 L357.0,879.6 L360.0,878.6 L363.0,877.7 L366.0,876.9 L369.0,876.0 L372.0,875.1 L375.0,874.2 L378.0,873.3 L381.0,872.4 L384.0,871.6 L387.0,870.7 L390.0,869.8 L393.0,868.9 L396.0,868.1 L399.0,867.2 L402.0,866.3 L405.0,865.5 L408.0,864.6 L411.0,863.8 L414.0,862.9 L417.0,862.0 L420.0,861.2 L423.0,860.3 L426.0,859.5 L429.0,858.6 L432.0,857.7 L435.0,856.9 L438.0,856.0 L441.0,855.2 L444.0,854.3 L447.0,853.4 L450.0,852.6 L453.0,851.7 L456.0,850.8 L459.0,850.0 L462.0,849.1 L465.0,848.2 L468.0,847.3 L471.0,846.5 L474.0,845.6 L477.0,844.7 L480.0,843.8 L483.0,842.9 L486.0,842.0 L489.0,841.1 L492.0,840.3 L495.0,839.4 L498.0,838.5 L501.0,837.6 L504.0,836.7 L507.0,835.8 L510.0,834.9 L513.0,834.0 L516.0,833.1 L519.0,832.2 L522.0,831.3 L525.0,830.4 L528.0,829.5 L531.0,828.6 L534.0,827.7 L537.0,826.8 L540.0,825.9 L543.0,825.0 L546.0,824.1 L549.0,823.2 L552.0,822.3 L555.0,821.4 L558.0,820.5 L561.0,819.6 L564.0,818.7 L567.0,817.8 L570.0,816.9 L573.0,816.0 L576.0,815.1 L579.0,814.2 L582.0,813.3 L585.0,812.4 L588.0,811.6 L591.0,810.7 L594.0,809.8 L597.0,808.9 L600.0,808.1 L603.0,807.2 L606.0,806.3 L609.0,805.4 L612.0,804.6 L615.0,803.7 L618.0,802.8 L621.0,802.0 L624.0,801.1 L627.0,800.3 L630.0,799.4 L633.0,798.6 L636.0,797.7 L639.0,796.9 L642.0,796.0 L645.0,795.2 L648.0,794.4 L651.0,793.5 L654.0,792.7 L657.0,791.9 L660.0,791.1 L663.0,790.2 L666.0,789.4 L669.0,788.6 L672.0,787.8 L675.0,787.0 L678.0,786.2 L681.0,785.4 L684.0,784.6 L687.0,783.8 L690.0,783.0 L693.0,782.2 L696.0,781.5 L699.0,780.7 L702.0,779.9 L705.0,779.1 L708.0,778.3 L711.0,777.6 L714.0,776.8 L717.0,776.1 L720.0,775.3 L723.0,774.5 L726.0,773.8 L729.0,773.0 L732.0,772.3 L735.0,771.5 L738.0,770.8 L741.0,770.1 L744.0,769.3 L747.0,768.6 L750.0,767.8 L753.0,767.1 L756.0,766.4 L759.0,765.7 L762.0,764.9 L765.0,764.2 L768.0,763.5 L771.0,762.8 L774.0,762.1 L777.0,761.3 L780.0,760.6 L783.0,759.9 L786.0,759.2 L789.0,758.5 L792.0,757.8 L795.0,757.1 L798.0,756.4 L801.0,755.7 L804.0,755.0 L807.0,754.3 L810.0,753.6 L813.0,752.9 L816.0,752.2 L819.0,751.6 L822.0,750.9 L825.0,750.2 L828.0,749.5 L831.0,748.8 L834.0,748.1 L837.0,747.5 L840.0,746.8 L843.0,746.1 L846.0,745.4 L849.0,744.8 L852.0,744.1 L855.0,743.4 L858.0,742.8 L861.0,742.1 L864.0,741.4 L867.0,740.8 L870.0,740.1 L873.0,739.4 L876.0,738.8 L879.0,738.1 L882.0,737.5 L885.0,736.8 L888.0,736.2 L891.0,735.5 L894.0,734.8 L897.0,734.2 L900.0,733.5 L903.0,732.9 L906.0,732.2 L909.0,731.6 L912.0,730.9 L915.0,730.3 L918.0,729.7 L921.0,729.0 L924.0,728.4 L927.0,727.7 L930.0,727.1 L933.0,726.4 L936.0,725.8 L939.0,725.2 L942.0,724.5 L945.0,723.9 L948.0,723.2 L951.0,722.6 L954.0,722.0 L957.0,721.3 L960.0,720.7 L963.0,720.1 L966.0,719.4 L969.0,718.8 L972.0,718.2 L975.0,717.5 L978.0,716.9 L981.0,716.3 L984.0,715.7 L987.0,715.0 L990.0,714.4 L993.0,713.8 L996.0,713.1 L999.0,712.5 L1002.0,711.9 L1005.0,711.3 L1008.0,710.6 L1011.0,710.0 L1014.0,709.4 L1017.0,708.8 L1020.0,708.1 L1023.0,707.5 L1026.0,706.9 L1029.0,706.3 L1032.0,705.7 L1035.0,705.0 L1038.0,704.4 L1041.0,703.8 L1044.0,703.2 L1047.0,702.6 L1050.0,701.9 L1053.0,701.3 L1056.0,700.7 L1059.0,700.1 L1062.0,699.5 L1065.0,698.8 L1068.0,698.2 L1071.0,697.6 L1074.0,697.0 L1077.0,696.4 L1080.0,695.8 L1083.0,695.1 L1086.0,694.5 L1089.0,693.9 L1092.0,693.3 L1095.0,692.7 L1098.0,692.1 L1101.0,691.4 L1104.0,690.8 L1107.0,690.2 L1110.0,689.6 L1113.0,689.0 L1116.0,688.4 L1119.0,687.7 L1122.0,687.1 L1125.0,686.5 L1128.0,685.9 L1131.0,685.3 L1134.0,684.7 L1137.0,684.0 L1140.0,683.4 L1143.0,682.8 L1146.0,682.2 L1149.0,681.6 L1152.0,681.0 L1155.0,680.4 L1158.0,679.7 L1161.0,679.1 L1164.0,678.5 L1167.0,677.9 L1170.0,677.3 L1173.0,676.7 L1176.0,676.0 L1179.0,675.4 L1182.0,674.8 L1185.0,674.2 L1188.0,673.6 L1191.0,673.0 L1194.0,672.3 L1197.0,671.7 L1200.0,671.1 L1203.0,670.5 L1206.0,669.9 L1209.0,669.3 L1212.0,668.6 L1215.0,668.0 L1218.0,667.4 L1221.0,666.8 L1224.0,666.2 L1227.0,665.5 L1230.0,664.9 L1233.0,664.3 L1236.0,663.7 L1239.0,663.1 L1242.0,662.4 L1245.0,661.8 L1248.0,661.2 L1251.0,660.6 L1254.0,660.0 L1257.0,659.4 L1260.0,658.7 L1263.0,658.1 L1266.0,657.5 L1269.0,656.9 L1272.0,656.3 L1275.0,655.7 L1278.0,655.1 L1281.0,654.4 L1284.0,653.8 L1287.0,653.2 L1290.0,652.6 L1293.0,652.0 L1296.0,651.4 L1299.0,650.8 L1300.0,650.6 L1301.0,650.4 L1302.0,650.2 L1303.0,650.0 L1304.0,649.9 L1305.0,649.7 L1306.0,649.5 L1307.0,649.4 L1308.0,649.2 L1309.0,649.1 L1310.0,649.0 L1311.0,648.9 L1312.0,648.8 L1313.0,648.7 L1314.0,648.6 L1315.0,648.5 L1316.0,648.4 L1317.0,648.4 L1318.0,648.3 L1319.0,648.2 L1320.0,648.2 L1321.0,648.1 L1322.0,648.0 L1323.0,647.9 L1324.0,647.9 L1325.0,647.8 L1326.0,647.7 L1327.0,647.5 L1328.0,647.4 L1329.0,647.3 L1330.0,647.1 L1331.0,646.9 L1332.0,646.8 L1333.0,646.6 L1334.0,646.4 L1335.0,646.2 L1336.0,646.0 L1337.0,645.8 L1338.0,645.6 L1339.0,645.4 L1340.0,645.2 L1341.0,645.0 L1342.0,644.8 L1343.0,644.5 L1344.0,644.3 L1345.0,644.0 L1346.0,643.8 L1347.0,643.5 L1348.0,643.2 L1349.0,642.9 L1350.0,642.6 L1351.0,642.4 L1352.0,642.0 L1353.0,641.7 L1354.0,641.4 L1355.0,641.1 L1356.0,640.8 L1357.0,640.5 L1358.0,640.1 L1359.0,639.8 L1360.0,639.5 L1361.0,639.1 L1362.0,638.8 L1363.0,638.5 L1364.0,638.1 L1365.0,637.8 L1366.0,637.5 L1367.0,637.1 L1368.0,636.8 L1369.0,636.5 L1370.0,636.2 L1371.0,635.8 L1372.0,635.5 L1373.0,635.2 L1374.0,634.9 L1375.0,634.6 L1376.0,634.3 L1377.0,634.0 L1378.0,633.7 L1379.0,633.4 L1380.0,633.1 L1381.0,632.8 L1382.0,632.5 L1383.0,632.2 L1384.0,631.9 L1385.0,631.6 L1386.0,631.3 L1387.0,631.1 L1388.0,630.8 L1389.0,630.5 L1390.0,630.2 L1391.0,629.9 L1392.0,629.6 L1393.0,629.3 L1394.0,629.0 L1395.0,628.7 L1396.0,628.4 L1397.0,628.1 L1398.0,627.8 L1399.0,627.5 L1400.0,627.2 L1401.0,626.9 L1402.0,626.6 L1403.0,626.3 L1404.0,626.0 L1405.0,625.7 L1406.0,625.4 L1407.0,625.1 L1408.0,624.7 L1409.0,624.4 L1410.0,624.1 L1411.0,623.8 L1412.0,623.5 L1413.0,623.2 L1414.0,622.9 L1415.0,622.5 L1416.0,622.2 L1417.0,621.9 L1418.0,621.6 L1419.0,621.3 L1420.0,621.0 L1421.0,620.7 L1422.0,620.4 L1423.0,620.0 L1424.0,619.7 L1425.0,619.4 L1426.0,619.1 L1427.0,618.7 L1428.0,618.4 L1429.0,618.1 L1430.0,617.7 L1431.0,617.4 L1432.0,617.0 L1433.0,616.7 L1434.0,616.3 L1435.0,615.9 L1436.0,615.6 L1437.0,615.2 L1438.0,614.8 L1439.0,614.4 L1440.0,614.0 L1441.0,613.6 L1442.0,613.2 L1443.0,612.7 L1444.0,612.3 L1445.0,611.8 L1446.0,611.3 L1447.0,610.8 L1448.0,610.3 L1449.0,609.8 L1450.0,609.3 L1451.0,608.8 L1452.0,608.2 L1453.0,607.7 L1454.0,607.2 L1455.0,606.6 L1456.0,606.1 L1457.0,605.6 L1458.0,605.0 L1459.0,604.5 L1460.0,604.0 L1461.0,603.5 L1462.0,603.0 L1463.0,602.5 L1464.0,602.0 L1465.0,601.5 L1466.0,601.0 L1467.0,600.5 L1468.0,600.0 L1469.0,599.5 L1470.0,599.0 L1471.0,598.5 L1472.0,598.0 L1473.0,597.5 L1474.0,597.0 L1475.0,596.5 L1476.0,596.0 L1477.0,595.5 L1478.0,595.0 L1479.0,594.5 L1480.0,594.0 L1481.0,593.5 L1482.0,593.0 L1483.0,592.5 L1484.0,592.0 L1485.0,591.5 L1486.0,591.0 L1487.0,590.5 L1488.0,590.0 L1489.0,589.6 L1490.0,589.1 L1491.0,588.6 L1492.0,588.2 L1493.0,587.7 L1494.0,587.3 L1495.0,586.8 L1496.0,586.4 L1497.0,585.9 L1498.0,585.5 L1499.0,585.0 L1500.0,584.6 L1501.0,584.1 L1502.0,583.6 L1503.0,583.1 L1504.0,582.5 L1505.0,582.0 L1506.0,581.4 L1507.0,580.8 L1508.0,580.2 L1509.0,579.6 L1510.0,578.9 L1511.0,578.2 L1512.0,577.4 L1513.0,576.5 L1514.0,575.7 L1515.0,574.7 L1516.0,573.8 L1517.0,572.8 L1518.0,571.8 L1519.0,570.8 L1520.0,569.8 L1521.0,568.8 L1522.0,567.7 L1523.0,566.6 L1524.0,565.4 L1525.0,564.2 L1526.0,563.0 L1527.0,561.7 L1528.0,560.5 L1529.0,559.3 L1530.0,558.1 L1531.0,557.0 L1532.0,556.0 L1533.0,555.1 L1534.0,554.2 L1535.0,553.4 L1536.0,552.6 L1537.0,551.8 L1538.0,551.0 L1539.0,550.2 L1540.0,549.4 L1541.0,548.5 L1542.0,547.5 L1543.0,546.5 L1544.0,545.4 L1545.0,544.3 L1546.0,543.2 L1547.0,541.9 L1548.0,540.5 L1549.0,538.9 L1550.0,536.9 L1551.0,534.1 L1552.0,530.9 L1553.0,528.2 L1554.0,526.4 L1555.0,525.1 L1556.0,523.9 L1557.0,523.0 L1558.0,522.4 L1559.0,522.0 L1560.0,521.6 L1561.0,521.3 L1562.0,521.0 L1563.0,520.8 L1564.0,520.6 L1565.0,520.5 L1565.5,520.5" fill="none" stroke="#1a16c0" stroke-width="5.8" stroke-linejoin="round" stroke-linecap="round"/>
<path d="M179.3,1048.0 L179.6,1007.4 L180.1,988.5 L180.7,979.3 L181.4,972.5 L182.2,967.3 L183.2,963.8 L184.3,961.4 L185.5,959.9 L186.8,958.6 L188.3,957.3 L189.9,955.6 L191.6,953.6 L193.5,951.4 L195.4,949.2 L197.5,947.0 L199.7,944.8 L202.1,942.6 L204.6,940.5 L207.2,938.4 L209.9,936.4 L212.7,934.4 L215.7,932.4 L218.8,930.4 L222.0,928.4 L225.4,926.5 L228.8,924.5 L232.4,922.6 L236.2,920.7 L240.0,918.8 L243.0,917.3 L246.0,915.9 L249.0,914.5 L252.0,913.1 L255.0,911.8 L258.0,910.5 L261.0,909.1 L264.0,907.8 L267.0,906.6 L270.0,905.3 L273.0,904.1 L276.0,902.8 L279.0,901.6 L282.0,900.4 L285.0,899.2 L288.0,898.0 L291.0,896.8 L294.0,895.6 L297.0,894.5 L300.0,893.3 L303.0,892.2 L306.0,891.0 L309.0,889.9 L312.0,888.8 L315.0,887.7 L318.0,886.6 L321.0,885.5 L324.0,884.4 L327.0,883.3 L330.0,882.3 L333.0,881.2 L336.0,880.2 L339.0,879.1 L342.0,878.1 L345.0,877.1 L348.0,876.0 L351.0,875.0 L354.0,874.0 L357.0,873.0 L360.0,872.0 L363.0,871.0 L366.0,870.1 L369.0,869.1 L372.0,868.1 L375.0,867.1 L378.0,866.2 L381.0,865.2 L384.0,864.3 L387.0,863.3 L390.0,862.4 L393.0,861.5 L396.0,860.6 L399.0,859.6 L402.0,858.7 L405.0,857.8 L408.0,856.9 L411.0,856.0 L414.0,855.1 L417.0,854.2 L420.0,853.4 L423.0,852.5 L426.0,851.6 L429.0,850.7 L432.0,849.9 L435.0,849.0 L438.0,848.2 L441.0,847.3 L444.0,846.5 L447.0,845.6 L450.0,844.8 L453.0,844.0 L456.0,843.1 L459.0,842.3 L462.0,841.5 L465.0,840.7 L468.0,839.9 L471.0,839.1 L474.0,838.3 L477.0,837.5 L480.0,836.7 L483.0,835.9 L486.0,835.1 L489.0,834.3 L492.0,833.6 L495.0,832.8 L498.0,832.0 L501.0,831.3 L504.0,830.5 L507.0,829.7 L510.0,829.0 L513.0,828.2 L516.0,827.5 L519.0,826.7 L522.0,826.0 L525.0,825.3 L528.0,824.5 L531.0,823.8 L534.0,823.1 L537.0,822.4 L540.0,821.6 L543.0,820.9 L546.0,820.2 L549.0,819.5 L552.0,818.8 L555.0,818.1 L558.0,817.4 L561.0,816.7 L564.0,816.0 L567.0,815.4 L570.0,814.7 L573.0,814.0 L576.0,813.3 L579.0,812.6 L582.0,812.0 L585.0,811.3 L588.0,810.6 L591.0,810.0 L594.0,809.3 L597.0,808.7 L600.0,808.0 L603.0,807.4 L606.0,806.7 L609.0,806.1 L612.0,805.4 L615.0,804.8 L618.0,804.2 L621.0,803.5 L624.0,802.9 L627.0,802.3 L630.0,801.7 L633.0,801.1 L636.0,800.4 L639.0,799.8 L642.0,799.2 L645.0,798.6 L648.0,798.0 L651.0,797.4 L654.0,796.8 L657.0,796.2 L660.0,795.6 L663.0,795.0 L666.0,794.4 L669.0,793.8 L672.0,793.2 L675.0,792.6 L678.0,792.0 L681.0,791.4 L684.0,790.8 L687.0,790.2 L690.0,789.6 L693.0,789.1 L696.0,788.5 L699.0,787.9 L702.0,787.3 L705.0,786.7 L708.0,786.1 L711.0,785.5 L714.0,784.9 L717.0,784.3 L720.0,783.8 L723.0,783.2 L726.0,782.6 L729.0,782.0 L732.0,781.4 L735.0,780.8 L738.0,780.2 L741.0,779.6 L744.0,779.0 L747.0,778.4 L750.0,777.8 L753.0,777.2 L756.0,776.6 L759.0,776.0 L762.0,775.4 L765.0,774.8 L768.0,774.2 L771.0,773.6 L774.0,773.0 L777.0,772.4 L780.0,771.8 L783.0,771.2 L786.0,770.6 L789.0,770.0 L792.0,769.3 L795.0,768.7 L798.0,768.1 L801.0,767.5 L804.0,766.9 L807.0,766.2 L810.0,765.6 L813.0,765.0 L816.0,764.3 L819.0,763.7 L822.0,763.1 L825.0,762.4 L828.0,761.8 L831.0,761.1 L834.0,760.5 L837.0,759.9 L840.0,759.2 L843.0,758.5 L846.0,757.9 L849.0,757.2 L852.0,756.6 L855.0,755.9 L858.0,755.2 L861.0,754.6 L864.0,753.9 L867.0,753.2 L870.0,752.5 L873.0,751.9 L876.0,751.2 L879.0,750.5 L882.0,749.8 L885.0,749.1 L888.0,748.4 L891.0,747.7 L894.0,747.0 L897.0,746.3 L900.0,745.6 L903.0,744.9 L906.0,744.2 L909.0,743.5 L912.0,742.8 L915.0,742.1 L918.0,741.4 L921.0,740.7 L924.0,740.0 L927.0,739.3 L930.0,738.6 L933.0,737.9 L936.0,737.2 L939.0,736.5 L942.0,735.8 L945.0,735.1 L948.0,734.4 L951.0,733.7 L954.0,733.0 L957.0,732.3 L960.0,731.6 L963.0,730.9 L966.0,730.2 L969.0,729.6 L972.0,728.9 L975.0,728.2 L978.0,727.6 L981.0,726.9 L984.0,726.3 L987.0,725.6 L990.0,725.0 L993.0,724.3 L996.0,723.7 L999.0,723.0 L1002.0,722.4 L1005.0,721.8 L1008.0,721.2 L1011.0,720.6 L1014.0,720.0 L1017.0,719.4 L1020.0,718.8 L1023.0,718.2 L1026.0,717.6 L1029.0,717.0 L1032.0,716.5 L1035.0,715.9 L1038.0,715.4 L1041.0,714.8 L1044.0,714.3 L1047.0,713.8 L1050.0,713.3 L1053.0,712.7 L1056.0,712.2 L1059.0,711.7 L1062.0,711.2 L1065.0,710.7 L1068.0,710.2 L1071.0,709.8 L1074.0,709.3 L1077.0,708.8 L1080.0,708.3 L1083.0,707.8 L1086.0,707.4 L1089.0,706.9 L1092.0,706.4 L1095.0,706.0 L1098.0,705.5 L1101.0,705.0 L1104.0,704.6 L1107.0,704.1 L1110.0,703.6 L1113.0,703.1 L1116.0,702.7 L1119.0,702.2 L1122.0,701.7 L1125.0,701.2 L1128.0,700.8 L1131.0,700.3 L1134.0,699.8 L1137.0,699.3 L1140.0,698.8 L1143.0,698.3 L1146.0,697.8 L1149.0,697.3 L1152.0,696.8 L1155.0,696.3 L1158.0,695.8 L1161.0,695.2 L1164.0,694.7 L1167.0,694.2 L1170.0,693.6 L1173.0,693.1 L1176.0,692.5 L1179.0,691.9 L1182.0,691.4 L1185.0,690.8 L1188.0,690.2 L1191.0,689.6 L1194.0,689.0 L1197.0,688.4 L1200.0,687.8 L1203.0,687.2 L1206.0,686.5 L1209.0,685.9 L1212.0,685.3 L1215.0,684.6 L1218.0,684.0 L1221.0,683.4 L1224.0,682.7 L1227.0,682.1 L1230.0,681.4 L1233.0,680.8 L1236.0,680.2 L1239.0,679.5 L1242.0,678.9 L1245.0,678.2 L1248.0,677.6 L1251.0,677.0 L1254.0,676.3 L1257.0,675.7 L1260.0,675.0 L1263.0,674.4 L1266.0,673.8 L1269.0,673.2 L1272.0,672.6 L1275.0,671.9 L1278.0,671.3 L1281.0,670.7 L1284.0,670.1 L1287.0,669.5 L1290.0,668.9 L1293.0,668.4 L1296.0,667.8 L1299.0,667.2 L1302.0,666.7 L1305.0,666.1 L1308.0,665.6 L1311.0,665.0 L1314.0,664.5 L1317.0,664.0 L1320.0,663.5 L1323.0,663.0 L1326.0,662.5 L1329.0,662.0 L1332.0,661.6 L1335.0,661.1 L1338.0,660.7 L1341.0,660.2 L1344.0,659.8 L1347.0,659.4 L1350.0,659.0 L1353.0,658.6 L1356.0,658.3 L1359.0,657.9 L1362.0,657.6 L1365.0,657.2 L1368.0,656.9 L1370.0,656.7 L1371.0,656.6 L1372.0,656.5 L1373.0,656.4 L1374.0,656.3 L1375.0,656.3 L1376.0,656.2 L1377.0,656.1 L1378.0,656.0 L1379.0,656.0 L1380.0,655.9 L1381.0,655.8 L1382.0,655.7 L1383.0,655.7 L1384.0,655.6 L1385.0,655.5 L1386.0,655.4 L1387.0,655.3 L1388.0,655.2 L1389.0,655.1 L1390.0,655.0 L1391.0,654.9 L1392.0,654.8 L1393.0,654.6 L1394.0,654.5 L1395.0,654.4 L1396.0,654.2 L1397.0,654.1 L1398.0,654.0 L1399.0,653.8 L1400.0,653.7 L1401.0,653.6 L1402.0,653.4 L1403.0,653.3 L1404.0,653.2 L1405.0,653.1 L1406.0,653.0 L1407.0,652.8 L1408.0,652.7 L1409.0,652.6 L1410.0,652.5 L1411.0,652.5 L1412.0,652.4 L1413.0,652.3 L1414.0,652.2 L1415.0,652.2 L1416.0,652.1 L1417.0,652.1 L1418.0,652.0 L1419.0,652.0 L1420.0,652.0 L1421.0,652.0 L1422.0,652.0 L1423.0,652.0 L1424.0,652.0 L1425.0,652.0 L1426.0,652.1 L1427.0,652.1 L1428.0,652.1 L1429.0,652.1 L1430.0,652.2 L1431.0,652.2 L1432.0,652.2 L1433.0,652.3 L1434.0,652.3 L1435.0,652.3 L1436.0,652.4 L1437.0,652.4 L1438.0,652.4 L1439.0,652.4 L1440.0,652.5 L1441.0,652.5 L1442.0,652.5 L1443.0,652.5 L1444.0,652.5 L1445.0,652.5 L1446.0,652.4 L1447.0,652.2 L1448.0,652.0 L1449.0,651.8 L1450.0,651.5 L1451.0,651.1 L1452.0,650.8 L1453.0,650.4 L1454.0,650.0 L1455.0,649.6 L1456.0,649.2 L1457.0,648.7 L1458.0,648.3 L1459.0,647.9 L1460.0,647.5 L1461.0,647.1 L1462.0,646.8 L1463.0,646.4 L1464.0,646.1 L1465.0,645.8 L1466.0,645.5 L1467.0,645.2 L1468.0,644.9 L1469.0,644.6 L1470.0,644.3 L1471.0,644.0 L1472.0,643.7 L1473.0,643.4 L1474.0,643.1 L1475.0,642.8 L1476.0,642.5 L1477.0,642.2 L1478.0,641.9 L1479.0,641.6 L1480.0,641.3 L1481.0,641.0 L1482.0,640.7 L1483.0,640.4 L1484.0,640.1 L1485.0,639.8 L1486.0,639.5 L1487.0,639.2 L1488.0,638.9 L1489.0,638.6 L1490.0,638.3 L1491.0,638.0 L1492.0,637.7 L1493.0,637.4 L1494.0,637.1 L1495.0,636.9 L1496.0,636.6 L1497.0,636.3 L1498.0,636.0 L1499.0,635.7 L1500.0,635.4 L1501.0,635.1 L1502.0,634.8 L1503.0,634.5 L1504.0,634.2 L1505.0,633.9 L1506.0,633.6 L1507.0,633.3 L1508.0,633.0 L1509.0,632.6 L1510.0,632.3 L1511.0,632.0 L1512.0,631.7 L1513.0,631.3 L1514.0,631.0 L1515.0,630.7 L1516.0,630.4 L1517.0,630.1 L1518.0,629.7 L1519.0,629.4 L1520.0,629.0 L1521.0,628.6 L1522.0,628.3 L1523.0,627.9 L1524.0,627.4 L1525.0,627.0 L1526.0,626.5 L1527.0,626.0 L1528.0,625.4 L1529.0,624.8 L1530.0,624.1 L1531.0,623.3 L1532.0,622.5 L1533.0,621.6 L1534.0,620.6 L1535.0,619.6 L1536.0,618.6 L1537.0,617.6 L1538.0,616.6 L1539.0,615.6 L1540.0,614.4 L1541.0,613.2 L1542.0,612.0 L1543.0,610.8 L1544.0,609.6 L1545.0,608.4 L1546.0,607.4 L1547.0,606.4 L1548.0,605.5 L1549.0,604.6 L1550.0,603.6 L1551.0,602.8 L1552.0,601.9 L1553.0,601.2 L1554.0,600.6 L1555.0,600.2 L1556.0,599.9 L1557.0,599.7 L1558.0,599.5 L1559.0,599.4 L1560.0,599.3 L1561.0,599.1 L1562.0,598.9 L1563.0,598.6 L1564.0,598.3 L1565.0,598.0" fill="none" stroke="#d826d6" stroke-width="5.8" stroke-linejoin="round" stroke-linecap="round"/>
<path d="M179.3,1048.0 L179.6,1010.6 L180.1,997.4 L180.7,993.9 L181.4,992.6 L182.2,990.5 L183.2,987.7 L184.3,984.5 L185.5,980.9 L186.8,977.3 L188.3,973.8 L189.9,970.5 L191.6,967.6 L193.5,965.1 L195.4,962.7 L197.5,960.5 L199.7,958.4 L202.1,956.3 L204.6,954.3 L207.2,952.3 L209.9,950.3 L212.7,948.4 L215.7,946.5 L218.8,944.6 L222.0,942.8 L225.4,941.0 L228.8,939.2 L232.4,937.5 L236.2,935.7 L240.0,934.1 L243.0,932.8 L246.0,931.6 L249.0,930.4 L252.0,929.2 L255.0,928.1 L258.0,927.1 L261.0,926.0 L264.0,925.0 L267.0,924.0 L270.0,923.0 L273.0,922.1 L276.0,921.1 L279.0,920.2 L282.0,919.3 L285.0,918.5 L288.0,917.6 L291.0,916.8 L294.0,916.0 L297.0,915.2 L300.0,914.4 L303.0,913.6 L306.0,912.8 L309.0,912.1 L312.0,911.3 L315.0,910.6 L318.0,909.9 L321.0,909.1 L324.0,908.4 L327.0,907.7 L330.0,907.1 L333.0,906.4 L336.0,905.7 L339.0,905.1 L342.0,904.4 L345.0,903.8 L348.0,903.1 L351.0,902.5 L354.0,901.9 L357.0,901.2 L360.0,900.6 L363.0,900.0 L366.0,899.4 L369.0,898.8 L372.0,898.2 L375.0,897.6 L378.0,897.1 L381.0,896.5 L384.0,895.9 L387.0,895.3 L390.0,894.8 L393.0,894.2 L396.0,893.7 L399.0,893.1 L402.0,892.5 L405.0,892.0 L408.0,891.5 L411.0,890.9 L414.0,890.4 L417.0,889.8 L420.0,889.3 L423.0,888.8 L426.0,888.3 L429.0,887.7 L432.0,887.2 L435.0,886.7 L438.0,886.2 L441.0,885.7 L444.0,885.2 L447.0,884.6 L450.0,884.1 L453.0,883.6 L456.0,883.1 L459.0,882.6 L462.0,882.1 L465.0,881.6 L468.0,881.1 L471.0,880.6 L474.0,880.1 L477.0,879.7 L480.0,879.2 L483.0,878.7 L486.0,878.2 L489.0,877.7 L492.0,877.2 L495.0,876.7 L498.0,876.2 L501.0,875.8 L504.0,875.3 L507.0,874.8 L510.0,874.3 L513.0,873.8 L516.0,873.3 L519.0,872.9 L522.0,872.4 L525.0,871.9 L528.0,871.4 L531.0,871.0 L534.0,870.5 L537.0,870.0 L540.0,869.5 L543.0,869.1 L546.0,868.6 L549.0,868.1 L552.0,867.6 L555.0,867.2 L558.0,866.7 L561.0,866.2 L564.0,865.8 L567.0,865.3 L570.0,864.8 L573.0,864.3 L576.0,863.9 L579.0,863.4 L582.0,862.9 L585.0,862.5 L588.0,862.0 L591.0,861.5 L594.0,861.1 L597.0,860.6 L600.0,860.1 L603.0,859.6 L606.0,859.2 L609.0,858.7 L612.0,858.2 L615.0,857.8 L618.0,857.3 L621.0,856.8 L624.0,856.3 L627.0,855.9 L630.0,855.4 L633.0,854.9 L636.0,854.5 L639.0,854.0 L642.0,853.5 L645.0,853.0 L648.0,852.6 L651.0,852.1 L654.0,851.6 L657.0,851.1 L660.0,850.7 L663.0,850.2 L666.0,849.7 L669.0,849.2 L672.0,848.8 L675.0,848.3 L678.0,847.8 L681.0,847.3 L684.0,846.8 L687.0,846.4 L690.0,845.9 L693.0,845.4 L696.0,844.9 L699.0,844.4 L702.0,844.0 L705.0,843.5 L708.0,843.0 L711.0,842.5 L714.0,842.0 L717.0,841.6 L720.0,841.1 L723.0,840.6 L726.0,840.1 L729.0,839.6 L732.0,839.1 L735.0,838.6 L738.0,838.1 L741.0,837.7 L744.0,837.2 L747.0,836.7 L750.0,836.2 L753.0,835.7 L756.0,835.2 L759.0,834.7 L762.0,834.2 L765.0,833.7 L768.0,833.2 L771.0,832.7 L774.0,832.2 L777.0,831.7 L780.0,831.2 L783.0,830.7 L786.0,830.2 L789.0,829.7 L792.0,829.2 L795.0,828.7 L798.0,828.2 L801.0,827.7 L804.0,827.2 L807.0,826.7 L810.0,826.2 L813.0,825.7 L816.0,825.2 L819.0,824.7 L822.0,824.2 L825.0,823.6 L828.0,823.1 L831.0,822.6 L834.0,822.1 L837.0,821.6 L840.0,821.1 L843.0,820.6 L846.0,820.0 L849.0,819.5 L852.0,819.0 L855.0,818.5 L858.0,818.0 L861.0,817.4 L864.0,816.9 L867.0,816.4 L870.0,815.9 L873.0,815.4 L876.0,814.8 L879.0,814.3 L882.0,813.8 L885.0,813.2 L888.0,812.7 L891.0,812.2 L894.0,811.6 L897.0,811.1 L900.0,810.6 L903.0,810.0 L906.0,809.5 L909.0,809.0 L912.0,808.4 L915.0,807.9 L918.0,807.3 L921.0,806.8 L924.0,806.2 L927.0,805.7 L930.0,805.2 L933.0,804.6 L936.0,804.1 L939.0,803.5 L942.0,803.0 L945.0,802.4 L948.0,801.8 L951.0,801.3 L954.0,800.7 L957.0,800.2 L960.0,799.6 L963.0,799.0 L966.0,798.5 L969.0,797.9 L972.0,797.3 L975.0,796.8 L978.0,796.2 L981.0,795.6 L984.0,795.1 L987.0,794.5 L990.0,793.9 L993.0,793.3 L996.0,792.8 L999.0,792.2 L1002.0,791.6 L1005.0,791.0 L1008.0,790.4 L1011.0,789.8 L1014.0,789.2 L1017.0,788.7 L1020.0,788.1 L1023.0,787.5 L1026.0,786.9 L1029.0,786.3 L1032.0,785.7 L1035.0,785.1 L1038.0,784.5 L1041.0,783.9 L1044.0,783.3 L1047.0,782.7 L1050.0,782.1 L1053.0,781.4 L1056.0,780.8 L1059.0,780.2 L1062.0,779.6 L1065.0,779.0 L1068.0,778.4 L1071.0,777.7 L1074.0,777.1 L1077.0,776.5 L1080.0,775.9 L1083.0,775.2 L1086.0,774.6 L1089.0,774.0 L1092.0,773.3 L1095.0,772.7 L1098.0,772.1 L1101.0,771.4 L1104.0,770.8 L1107.0,770.1 L1110.0,769.5 L1113.0,768.9 L1116.0,768.2 L1119.0,767.6 L1122.0,766.9 L1125.0,766.2 L1128.0,765.6 L1131.0,764.9 L1134.0,764.3 L1137.0,763.6 L1140.0,762.9 L1143.0,762.3 L1146.0,761.6 L1149.0,760.9 L1152.0,760.3 L1155.0,759.6 L1158.0,758.9 L1161.0,758.2 L1164.0,757.6 L1167.0,756.9 L1170.0,756.2 L1173.0,755.5 L1176.0,754.8 L1179.0,754.1 L1182.0,753.5 L1185.0,752.8 L1188.0,752.1 L1191.0,751.4 L1194.0,750.7 L1197.0,750.0 L1200.0,749.3 L1203.0,748.5 L1206.0,747.8 L1209.0,747.1 L1212.0,746.4 L1215.0,745.7 L1218.0,745.0 L1221.0,744.2 L1224.0,743.5 L1227.0,742.8 L1230.0,742.0 L1233.0,741.3 L1236.0,740.5 L1239.0,739.8 L1242.0,739.0 L1245.0,738.3 L1248.0,737.5 L1251.0,736.7 L1254.0,736.0 L1257.0,735.2 L1260.0,734.4 L1263.0,733.6 L1266.0,732.8 L1269.0,732.0 L1272.0,731.2 L1275.0,730.4 L1278.0,729.6 L1281.0,728.8 L1284.0,727.9 L1287.0,727.1 L1290.0,726.3 L1293.0,725.4 L1296.0,724.6 L1299.0,723.7 L1302.0,722.8 L1305.0,722.0 L1308.0,721.1 L1311.0,720.2 L1314.0,719.3 L1317.0,718.4 L1320.0,717.5 L1323.0,716.6 L1326.0,715.7 L1329.0,714.8 L1330.0,714.5 L1331.0,714.2 L1332.0,713.9 L1333.0,713.6 L1334.0,713.3 L1335.0,713.0 L1336.0,712.7 L1337.0,712.4 L1338.0,712.1 L1339.0,711.8 L1340.0,711.5 L1341.0,711.2 L1342.0,710.9 L1343.0,710.6 L1344.0,710.3 L1345.0,709.9 L1346.0,709.6 L1347.0,709.2 L1348.0,708.9 L1349.0,708.5 L1350.0,708.2 L1351.0,707.8 L1352.0,707.4 L1353.0,707.0 L1354.0,706.6 L1355.0,706.2 L1356.0,705.8 L1357.0,705.4 L1358.0,705.0 L1359.0,704.5 L1360.0,704.1 L1361.0,703.7 L1362.0,703.3 L1363.0,702.9 L1364.0,702.5 L1365.0,702.1 L1366.0,701.7 L1367.0,701.3 L1368.0,700.9 L1369.0,700.5 L1370.0,700.1 L1371.0,699.7 L1372.0,699.3 L1373.0,699.0 L1374.0,698.6 L1375.0,698.2 L1376.0,697.8 L1377.0,697.4 L1378.0,697.0 L1379.0,696.7 L1380.0,696.3 L1381.0,695.9 L1382.0,695.5 L1383.0,695.2 L1384.0,694.8 L1385.0,694.4 L1386.0,694.0 L1387.0,693.7 L1388.0,693.3 L1389.0,692.9 L1390.0,692.6 L1391.0,692.2 L1392.0,691.8 L1393.0,691.4 L1394.0,691.1 L1395.0,690.7 L1396.0,690.3 L1397.0,690.0 L1398.0,689.6 L1399.0,689.3 L1400.0,688.9 L1401.0,688.5 L1402.0,688.2 L1403.0,687.8 L1404.0,687.4 L1405.0,687.1 L1406.0,686.7 L1407.0,686.4 L1408.0,686.0 L1409.0,685.6 L1410.0,685.3 L1411.0,684.9 L1412.0,684.6 L1413.0,684.2 L1414.0,683.8 L1415.0,683.5 L1416.0,683.1 L1417.0,682.8 L1418.0,682.4 L1419.0,682.0 L1420.0,681.7 L1421.0,681.3 L1422.0,680.9 L1423.0,680.6 L1424.0,680.2 L1425.0,679.9 L1426.0,679.5 L1427.0,679.2 L1428.0,678.8 L1429.0,678.4 L1430.0,678.1 L1431.0,677.7 L1432.0,677.4 L1433.0,677.1 L1434.0,676.7 L1435.0,676.4 L1436.0,676.0 L1437.0,675.7 L1438.0,675.4 L1439.0,675.1 L1440.0,674.7 L1441.0,674.4 L1442.0,674.1 L1443.0,673.8 L1444.0,673.5 L1445.0,673.2 L1446.0,672.9 L1447.0,672.6 L1448.0,672.3 L1449.0,672.1 L1450.0,671.8 L1451.0,671.5 L1452.0,671.3 L1453.0,671.0 L1454.0,670.7 L1455.0,670.5 L1456.0,670.2 L1457.0,670.0 L1458.0,669.7 L1459.0,669.4 L1460.0,669.2 L1461.0,668.9 L1462.0,668.6 L1463.0,668.3 L1464.0,668.0 L1465.0,667.8 L1466.0,667.5 L1467.0,667.2 L1468.0,666.9 L1469.0,666.6 L1470.0,666.3 L1471.0,666.0 L1472.0,665.7 L1473.0,665.4 L1474.0,665.2 L1475.0,664.9 L1476.0,664.6 L1477.0,664.3 L1478.0,664.0 L1479.0,663.7 L1480.0,663.3 L1481.0,663.0 L1482.0,662.7 L1483.0,662.4 L1484.0,662.1 L1485.0,661.8 L1486.0,661.5 L1487.0,661.1 L1488.0,660.8 L1489.0,660.5 L1490.0,660.2 L1491.0,659.9 L1492.0,659.6 L1493.0,659.3 L1494.0,659.0 L1495.0,658.6 L1496.0,658.3 L1497.0,658.0 L1498.0,657.7 L1499.0,657.3 L1500.0,657.0 L1501.0,656.6 L1502.0,656.3 L1503.0,655.9 L1504.0,655.5 L1505.0,655.2 L1506.0,654.8 L1507.0,654.3 L1508.0,653.9 L1509.0,653.5 L1510.0,653.0 L1511.0,652.5 L1512.0,652.0 L1513.0,651.5 L1514.0,651.0 L1515.0,650.4 L1516.0,649.8 L1517.0,649.1 L1518.0,648.5 L1519.0,647.8 L1520.0,647.1 L1521.0,646.3 L1522.0,645.5 L1523.0,644.7 L1524.0,643.8 L1525.0,642.8 L1526.0,641.8 L1527.0,640.8 L1528.0,639.7 L1529.0,638.5 L1530.0,637.3 L1531.0,636.1 L1532.0,634.7 L1533.0,633.1 L1534.0,631.5 L1535.0,629.8 L1536.0,628.2 L1537.0,626.6 L1538.0,625.1 L1539.0,623.7 L1540.0,622.5 L1541.0,621.3 L1542.0,620.2 L1543.0,619.2 L1544.0,618.1 L1545.0,617.1 L1546.0,616.2 L1547.0,615.3 L1548.0,614.4 L1549.0,613.5 L1550.0,612.6 L1551.0,611.8 L1552.0,610.9 L1553.0,610.1 L1554.0,609.3 L1555.0,608.5 L1556.0,607.8 L1557.0,607.1 L1558.0,606.5 L1559.0,606.0 L1560.0,605.5 L1561.0,605.0 L1562.0,604.6 L1563.0,604.2 L1564.0,603.9 L1564.9,603.6" fill="none" stroke="#3fe6d6" stroke-width="5.8" stroke-linejoin="round" stroke-linecap="round"/>
<line x1="196.3" y1="92.8" x2="338.8" y2="92.8" stroke="#0a0a0a" stroke-width="7"/>
<text font-family="'Liberation Serif', 'Times New Roman', serif" font-size="61" fill="#111"><tspan x="351.7 386.4 431.3 472.7 496.2 536.5 581.2 614.5" y="112.1">PVC-DOP(</tspan><tspan x="637.7" y="112.1" font-style="italic">D</tspan><tspan x="680.0 715.1 746.0 764.7 796.4 823.7 857.9 887.7" y="112.1">=3.06×10</tspan><tspan x="918.5 942.7" y="88.1" font-size="40">−9</tspan><tspan x="965.2 991.0" y="112.1">cm</tspan><tspan x="1036.8" y="88.1" font-size="40">2</tspan><tspan x="1059.5 1077.0 1100.3" y="112.1">/s)</tspan></text>
<line x1="196.3" y1="176.8" x2="338.8" y2="176.8" stroke="#d8465a" stroke-width="7"/>
<text font-family="'Liberation Serif', 'Times New Roman', serif" font-size="61" fill="#111"><tspan x="351.7 386.3 430.9 472.2 494.7 539.0 583.2 614.5 631.4 665.5 709.7 754.6 770.7 796.0 822.0 837.4 869.2 884.3 916.8 931.8 962.7 983.3" y="196.1">PVC-DOP/SDH (7.1:2.9)(</tspan><tspan x="1006.7" y="196.1" font-style="italic">D</tspan><tspan x="1046.5 1081.7 1113.6 1129.2 1163.7 1192.7 1224.3 1257.0" y="196.1">=2.50×10</tspan><tspan x="1289.0 1309.3" y="172.1" font-size="40">−9</tspan><tspan x="1330.7 1357.7" y="196.1">cm</tspan><tspan x="1404.7" y="172.1" font-size="40">2</tspan><tspan x="1428.0 1443.5 1467.5" y="196.1">/s)</tspan></text>
<line x1="196.3" y1="260.8" x2="338.8" y2="260.8" stroke="#38e040" stroke-width="7"/>
<text font-family="'Liberation Serif', 'Times New Roman', serif" font-size="61" fill="#111"><tspan x="351.7 386.3 430.9 472.2 494.7 539.0 583.2 614.5 631.4 665.5 709.7 754.6 770.7 796.0 822.0 837.4 869.2 884.3 916.8 931.8 962.7 983.3" y="280.1">PVC-DOP/SDH (4.9:5.1)(</tspan><tspan x="1006.7" y="280.1" font-style="italic">D</tspan><tspan x="1046.5 1081.7 1113.6 1129.2 1163.7 1192.7 1224.3 1257.0" y="280.1">=1.94×10</tspan><tspan x="1289.0 1309.3" y="256.1" font-size="40">−9</tspan><tspan x="1330.7 1357.7" y="280.1">cm</tspan><tspan x="1404.7" y="256.1" font-size="40">2</tspan><tspan x="1428.0 1443.5 1467.5" y="280.1">/s)</tspan></text>
<line x1="196.3" y1="344.8" x2="338.8" y2="344.8" stroke="#1a16c0" stroke-width="7"/>
<text font-family="'Liberation Serif', 'Times New Roman', serif" font-size="61" fill="#111"><tspan x="351.7 386.3 430.9 472.2 494.7 539.0 583.2 614.5 631.4 665.5 709.7 754.6 770.7 796.0 822.0 837.4 869.2 884.3 916.8 931.8 962.7 983.3" y="364.1">PVC-DOP/SDH (2.8:7.2)(</tspan><tspan x="1006.7" y="364.1" font-style="italic">D</tspan><tspan x="1046.5 1081.7 1113.6 1129.2 1163.7 1192.7 1224.3 1257.0" y="364.1">=1.94×10</tspan><tspan x="1289.0 1309.3" y="340.1" font-size="40">−9</tspan><tspan x="1330.7 1357.7" y="364.1">cm</tspan><tspan x="1404.7" y="340.1" font-size="40">2</tspan><tspan x="1428.0 1443.5 1467.5" y="364.1">/s)</tspan></text>
<line x1="196.3" y1="428.8" x2="338.8" y2="428.8" stroke="#d826d6" stroke-width="7"/>
<text font-family="'Liberation Serif', 'Times New Roman', serif" font-size="61" fill="#111"><tspan x="351.7 386.3 430.9 472.2 494.7 539.0 583.2 614.5 631.4 665.5 709.7 754.6 770.7 796.0 822.0 837.4 869.2 884.3 916.8 931.8 962.7 983.3" y="448.1">PVC-DOP/SDH (1.4:8.6)(</tspan><tspan x="1006.7" y="448.1" font-style="italic">D</tspan><tspan x="1046.5 1081.7 1113.6 1129.2 1163.7 1192.7 1224.3 1257.0" y="448.1">=1.67×10</tspan><tspan x="1289.0 1309.3" y="424.1" font-size="40">−9</tspan><tspan x="1330.7 1357.7" y="448.1">cm</tspan><tspan x="1404.7" y="424.1" font-size="40">2</tspan><tspan x="1428.0 1443.5 1467.5" y="448.1">/s)</tspan></text>
<line x1="196.3" y1="512.8" x2="338.8" y2="512.8" stroke="#3fe6d6" stroke-width="7"/>
<text font-family="'Liberation Serif', 'Times New Roman', serif" font-size="61" fill="#111"><tspan x="351.7 386.4 431.3 472.7 492.7 526.2 569.8 614.5" y="532.1">PVC-SDH(</tspan><tspan x="637.7" y="532.1" font-style="italic">D</tspan><tspan x="680.0 715.1 746.0 764.7 796.4 823.7 857.9 887.7" y="532.1">=1.39×10</tspan><tspan x="918.5 942.7" y="508.1" font-size="40">−9</tspan><tspan x="965.2 991.0" y="532.1">cm</tspan><tspan x="1036.8" y="508.1" font-size="40">2</tspan><tspan x="1059.5 1077.0 1100.3" y="532.1">/s)</tspan></text>
<text x="153.2" y="1065.8" text-anchor="end" font-family="'Liberation Serif', 'Times New Roman', serif" font-size="61" fill="#111">0</text>
<text x="153.2" y="940.2" text-anchor="end" font-family="'Liberation Serif', 'Times New Roman', serif" font-size="61" fill="#111">5</text>
<text x="153.2" y="814.6" text-anchor="end" font-family="'Liberation Serif', 'Times New Roman', serif" font-size="61" fill="#111">10</text>
<text x="153.2" y="689.0" text-anchor="end" font-family="'Liberation Serif', 'Times New Roman', serif" font-size="61" fill="#111">15</text>
<text x="153.2" y="563.4" text-anchor="end" font-family="'Liberation Serif', 'Times New Roman', serif" font-size="61" fill="#111">20</text>
<text x="153.2" y="437.9" text-anchor="end" font-family="'Liberation Serif', 'Times New Roman', serif" font-size="61" fill="#111">25</text>
<text x="153.2" y="312.3" text-anchor="end" font-family="'Liberation Serif', 'Times New Roman', serif" font-size="61" fill="#111">30</text>
<text x="153.2" y="186.7" text-anchor="end" font-family="'Liberation Serif', 'Times New Roman', serif" font-size="61" fill="#111">35</text>
<text x="153.2" y="61.1" text-anchor="end" font-family="'Liberation Serif', 'Times New Roman', serif" font-size="61" fill="#111">40</text>
<text x="522.7" y="1114.0" text-anchor="middle" font-family="'Liberation Serif', 'Times New Roman', serif" font-size="52" fill="#111">5,000</text>
<text x="869.8" y="1117.0" text-anchor="middle" font-family="'Liberation Serif', 'Times New Roman', serif" font-size="52" fill="#111">10,000</text>
<text x="1220.0" y="1122.0" text-anchor="middle" font-family="'Liberation Serif', 'Times New Roman', serif" font-size="52" fill="#111">15,000</text>
<text x="1561.5" y="1115.7" text-anchor="middle" font-family="'Liberation Serif', 'Times New Roman', serif" font-size="52" fill="#111">20,000</text>
<text x="853.5" y="1185" text-anchor="middle" font-family="'Liberation Serif', 'Times New Roman', serif" font-size="61" fill="#111">Time (ps)</text>
<text transform="translate(68,543) rotate(-90)" text-anchor="middle" font-family="'Liberation Serif', 'Times New Roman', serif" font-size="60" fill="#111"><tspan font-style="italic">MSD</tspan> (&#197;<tspan font-size="38" dy="-24">2</tspan><tspan dy="24">)</tspan></text>
</svg>
</body></html>
